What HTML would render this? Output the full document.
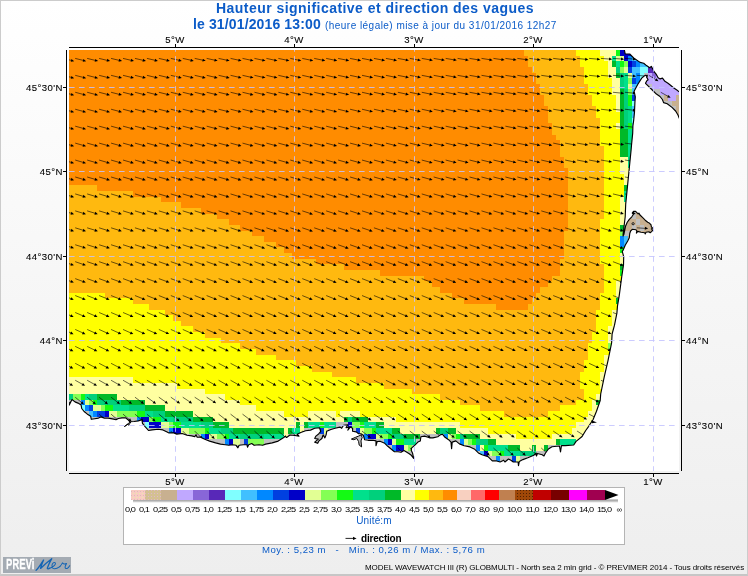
<!DOCTYPE html>
<html><head><meta charset="utf-8"><title>Hauteur significative et direction des vagues</title>
<style>
html,body{margin:0;padding:0}
body{width:748px;height:576px;position:relative;overflow:hidden;font-family:"Liberation Sans",sans-serif;background:linear-gradient(#ffffff,#eeeeee);}
#bd{position:absolute;left:0;top:0;width:746px;height:573px;border:1px solid #cccccc;border-bottom:2px solid #c6c6c6;}
.t,.lb,.lg,.tx{will-change:transform}
.t{position:absolute;white-space:nowrap;color:#0c5cc8;}
.lb{position:absolute;white-space:nowrap;font-size:9.6px;line-height:13px;color:#000;letter-spacing:0.45px;margin-top:0.15px;-webkit-text-stroke:0.1px #000}
.lg{position:absolute;top:505px;width:30px;text-align:center;font-size:8px;line-height:10px;color:#000;letter-spacing:-0.8px;white-space:nowrap;transform:scaleX(1.15)}
</style></head><body>
<div id="bd"></div>
<div class="t" style="left:216px;top:0px;font-size:14px;font-weight:bold;line-height:16px;letter-spacing:0.46px">Hauteur significative et direction des vagues</div>
<div class="t" style="left:192.7px;top:16px;font-size:14px;font-weight:bold;line-height:16px;letter-spacing:0.13px">le 31/01/2016 13:00</div>
<div class="t" style="left:325px;top:19px;font-size:10px;line-height:13px;letter-spacing:0.46px">(heure légale) mise à jour du 31/01/2016 12h27</div>
<svg width="748" height="576" viewBox="0 0 748 576" style="position:absolute;left:0;top:0">
<defs><clipPath id="pc"><rect x="69" y="50" width="610" height="421"/></clipPath></defs>
<rect x="69" y="50" width="610" height="421" fill="#fff"/>
<g clip-path="url(#pc)">
<g shape-rendering="crispEdges">
<rect x="69" y="50" width="610" height="421" fill="#ffffa0"/>
<path d="M69 50H600V56H69ZM69 56H604V61H69ZM69 61H608V67H69ZM69 67H608V73H69ZM69 73H608V78H69ZM69 78H612V84H69ZM69 84H612V89H69ZM69 89H612V95H69ZM69 95H616V101H69ZM69 101H616V106H69ZM69 106H616V112H69ZM69 112H620V118H69ZM69 118H620V123H69ZM69 123H616V129H69ZM69 129H620V135H69ZM69 135H620V140H69ZM69 140H620V146H69ZM69 146H620V152H69ZM69 152H620V157H69ZM69 157H620V163H69ZM69 163H620V168H69ZM69 168H620V174H69ZM69 174H624V180H69ZM69 180H624V185H69ZM69 185H624V191H69ZM69 191H624V197H69ZM69 197H620V202H69ZM69 202H620V208H69ZM69 208H620V214H69ZM69 214H620V219H69ZM69 219H620V225H69ZM69 225H620V231H69ZM69 231H620V236H69ZM69 236H620V242H69ZM69 242H620V247H69ZM69 247H620V253H69ZM69 253H620V259H69ZM69 259H620V264H69ZM69 264H620V270H69ZM69 270H620V276H69ZM69 276H624V281H69ZM69 281H616V287H69ZM69 287H616V293H69ZM69 293H616V298H69ZM69 298H616V304H69ZM69 304H620V310H69ZM69 310H612V315H69ZM69 315H612V321H69ZM69 321H612V326H69ZM69 326H608V332H69ZM69 332H608V338H69ZM69 338H608V343H69ZM69 343H608V349H69ZM69 349H612V355H69ZM69 355H604V360H69ZM69 360H604V366H69ZM69 366H604V372H69ZM69 372H600V377H69ZM133 377H600V383H133ZM177 383H600V389H177ZM205 389H604V394H205ZM225 394H596V400H225ZM240 400H592V405H240ZM256 405H592V411H256ZM284 411H308V417H284ZM336 411H340V417H336ZM360 411H588V417H360ZM396 417H584V422H396ZM460 422H576V428H460ZM488 428H572V434H488ZM516 434H552V439H516Z" fill="#ffff00"/>
<path d="M69 50H576V56H69ZM69 56H580V61H69ZM69 61H580V67H69ZM69 67H584V73H69ZM69 73H584V78H69ZM69 78H584V84H69ZM69 84H588V89H69ZM69 89H588V95H69ZM69 95H592V101H69ZM69 101H592V106H69ZM69 106H596V112H69ZM69 112H596V118H69ZM69 118H600V123H69ZM69 123H600V129H69ZM69 129H600V135H69ZM69 135H600V140H69ZM69 140H600V146H69ZM69 146H604V152H69ZM69 152H604V157H69ZM69 157H604V163H69ZM69 163H604V168H69ZM69 168H604V174H69ZM69 174H604V180H69ZM69 180H604V185H69ZM69 185H604V191H69ZM69 191H604V197H69ZM69 197H604V202H69ZM69 202H604V208H69ZM69 208H604V214H69ZM69 214H604V219H69ZM69 219H600V225H69ZM69 225H600V231H69ZM69 231H600V236H69ZM69 236H600V242H69ZM69 242H600V247H69ZM69 247H600V253H69ZM69 253H600V259H69ZM69 259H600V264H69ZM69 264H604V270H69ZM69 270H604V276H69ZM69 276H604V281H69ZM69 281H604V287H69ZM69 287H604V293H69ZM105 293H600V298H105ZM133 298H600V304H133ZM149 304H600V310H149ZM165 310H596V315H165ZM173 315H596V321H173ZM181 321H596V326H181ZM193 326H596V332H193ZM205 332H592V338H205ZM221 338H592V343H221ZM240 343H588V349H240ZM256 349H588V355H256ZM276 355H588V360H276ZM296 360H584V366H296ZM312 366H584V372H312ZM332 372H580V377H332ZM356 377H580V383H356ZM384 383H580V389H384ZM412 389H584V394H412ZM440 394H584V400H440ZM460 400H576V405H460ZM480 405H560V411H480ZM504 411H548V417H504Z" fill="#ffb90f"/>
<path d="M69 50H524V56H69ZM69 56H528V61H69ZM69 61H528V67H69ZM69 67H532V73H69ZM69 73H536V78H69ZM69 78H536V84H69ZM69 84H540V89H69ZM69 89H540V95H69ZM69 95H544V101H69ZM69 101H544V106H69ZM69 106H548V112H69ZM69 112H548V118H69ZM69 118H548V123H69ZM69 123H552V129H69ZM69 129H552V135H69ZM69 135H556V140H69ZM69 140H560V146H69ZM69 146H560V152H69ZM69 152H560V157H69ZM69 157H564V163H69ZM69 163H564V168H69ZM69 168H568V174H69ZM69 174H568V180H69ZM69 180H568V185H69ZM97 185H568V191H97ZM133 191H568V197H133ZM161 197H568V202H161ZM181 202H568V208H181ZM201 208H568V214H201ZM217 214H568V219H217ZM229 219H568V225H229ZM240 225H568V231H240ZM252 231H564V236H252ZM264 236H564V242H264ZM276 242H564V247H276ZM284 247H564V253H284ZM292 253H564V259H292ZM316 259H560V264H316ZM344 264H560V270H344ZM380 270H560V276H380ZM424 276H552V281H424ZM432 281H548V287H432ZM440 287H540V293H440ZM452 293H536V298H452ZM464 298H532V304H464ZM496 304H528V310H496Z" fill="#ff8c00"/>
<path d="M616 50H620V56H616ZM620 61H624V67H620ZM628 95H632V101H628ZM628 101H632V106H628ZM628 123H632V129H628ZM620 247H628V253H620ZM620 270H628V276H620ZM81 394H85V400H81ZM93 400H97V405H93ZM105 405H113V411H105ZM137 411H145V417H137ZM153 417H161V422H153ZM173 422H181V428H173ZM320 422H324V428H320ZM360 422H364V428H360ZM205 428H209V434H205ZM372 428H376V434H372ZM225 434H229V439H225ZM388 434H392V439H388ZM456 434H460V439H456ZM396 439H404V445H396ZM472 439H476V445H472ZM484 445H488V451H484ZM500 451H504V456H500Z" fill="#14fa14"/>
<path d="M620 50H632V56H620ZM624 56H628V61H624ZM628 61H632V67H628ZM105 411H109V417H105ZM141 417H149V422H141ZM149 422H161V428H149ZM348 422H352V428H348ZM173 428H181V434H173ZM205 434H209V439H205ZM368 434H376V439H368ZM229 439H233V445H229ZM388 439H392V445H388ZM396 445H404V451H396ZM484 451H488V456H484Z" fill="#0000c8"/>
<path d="M612 56H616V61H612ZM616 61H620V67H616ZM624 73H628V78H624ZM624 78H628V84H624ZM624 84H628V89H624ZM628 106H632V112H628ZM628 112H632V118H628ZM628 118H632V123H628ZM628 129H636V135H628ZM628 135H636V140H628ZM628 140H636V146H628ZM628 146H636V152H628ZM628 152H636V157H628ZM628 157H632V163H628ZM628 163H632V168H628ZM624 191H632V197H624ZM624 197H632V202H624ZM85 394H89V400H85ZM113 405H129V411H113ZM145 411H153V417H145ZM161 417H173V422H161ZM181 422H201V428H181ZM308 422H320V428H308ZM324 422H336V428H324ZM364 422H376V428H364ZM209 428H221V434H209ZM292 428H300V434H292ZM376 428H392V434H376ZM229 434H240V439H229ZM264 434H284V439H264ZM404 439H416V445H404ZM560 439H576V445H560ZM488 445H508V451H488ZM504 451H520V456H504Z" fill="#00e08c"/>
<path d="M616 56H624V61H616ZM624 67H628V73H624ZM628 73H632V78H628ZM628 84H632V89H628ZM85 400H89V405H85ZM93 405H101V411H93ZM109 411H117V417H109ZM161 422H169V428H161ZM181 428H189V434H181ZM324 428H328V434H324ZM360 428H364V434H360ZM209 434H217V439H209ZM376 434H380V439H376ZM448 434H452V439H448ZM233 439H240V445H233ZM392 439H396V445H392ZM464 439H468V445H464ZM404 445H408V451H404ZM488 451H492V456H488ZM516 456H520V462H516Z" fill="#e2ff94"/>
<path d="M628 56H632V61H628ZM636 61H640V67H636ZM636 73H640V78H636ZM636 78H640V84H636ZM620 236H624V242H620ZM620 242H624V247H620ZM81 400H85V405H81ZM85 405H89V411H85ZM93 411H97V417H93ZM137 417H141V422H137ZM169 428H173V434H169ZM201 434H205V439H201ZM364 434H368V439H364ZM444 434H448V439H444ZM225 439H229V445H225ZM384 439H388V445H384ZM460 439H464V445H460ZM392 445H396V451H392ZM476 445H480V451H476ZM496 456H500V462H496Z" fill="#0088ff"/>
<path d="M632 56H640V61H632ZM640 61H648V67H640ZM632 67H640V73H632ZM632 73H636V78H632ZM632 84H640V89H632ZM632 89H640V95H632ZM632 106H640V112H632ZM632 112H640V118H632ZM632 123H640V129H632ZM624 236H632V242H624ZM624 242H632V247H624ZM89 411H93V417H89ZM480 451H484V456H480Z" fill="#40c0ff"/>
<path d="M612 61H616V67H612ZM616 73H620V78H616ZM620 89H624V95H620ZM620 95H624V101H620ZM620 101H624V106H620ZM620 106H624V112H620ZM620 112H624V118H620ZM620 118H624V123H620ZM620 123H624V129H620ZM620 129H628V135H620ZM620 135H628V140H620ZM620 140H628V146H620ZM620 146H628V152H620ZM620 152H628V157H620ZM624 185H632V191H624ZM620 225H628V231H620ZM620 264H628V270H620ZM616 298H624V304H616ZM596 400H604V405H596ZM97 394H117V400H97ZM121 400H145V405H121ZM145 405H165V411H145ZM165 411H193V417H165ZM193 417H213V422H193ZM344 417H348V422H344ZM352 417H368V422H352ZM213 422H229V428H213ZM296 422H300V428H296ZM304 422H308V428H304ZM376 422H384V428H376ZM233 428H284V434H233ZM288 428H292V434H288ZM392 428H400V434H392ZM436 428H440V434H436ZM448 428H456V434H448ZM404 434H420V439H404ZM464 434H480V439H464ZM488 439H496V445H488ZM556 439H560V445H556ZM508 445H520V451H508ZM532 445H536V451H532ZM544 445H548V451H544Z" fill="#00b928"/>
<path d="M624 61H628V67H624ZM620 67H624V73H620ZM628 78H632V84H628ZM628 89H632V95H628ZM620 231H628V236H620ZM608 343H616V349H608ZM73 394H81V400H73ZM89 400H93V405H89ZM101 405H105V411H101ZM117 411H137V417H117ZM149 417H153V422H149ZM169 422H173V428H169ZM352 422H360V428H352ZM189 428H205V434H189ZM364 428H372V434H364ZM217 434H225V439H217ZM380 434H388V439H380ZM452 434H456V439H452ZM248 439H264V445H248ZM468 439H472V445H468ZM408 445H412V451H408ZM492 451H500V456H492Z" fill="#84ff54"/>
<path d="M632 61H636V67H632ZM628 67H632V73H628ZM632 78H636V84H632ZM632 95H640V101H632ZM89 405H93V411H89ZM97 411H105V417H97ZM320 428H324V434H320ZM356 428H360V434H356ZM244 439H248V445H244ZM512 456H516V462H512Z" fill="#0040e0"/>
<path d="M616 67H620V73H616ZM620 73H624V78H620ZM620 78H624V84H620ZM620 84H624V89H620ZM624 89H628V95H624ZM624 95H628V101H624ZM624 101H628V106H624ZM624 106H628V112H624ZM624 112H628V118H624ZM624 118H628V123H624ZM624 123H628V129H624ZM69 394H73V400H69ZM89 394H97V400H89ZM97 400H121V405H97ZM129 405H145V411H129ZM153 411H165V417H153ZM173 417H193V422H173ZM348 417H352V422H348ZM201 422H213V428H201ZM221 428H233V434H221ZM440 428H448V434H440ZM240 434H264V439H240ZM392 434H400V439H392ZM400 434H404V439H400ZM460 434H464V439H460ZM476 439H488V445H476ZM520 451H536V456H520Z" fill="#00d07c"/>
<path d="M640 67H648V73H640ZM640 73H644V78H640ZM640 78H644V84H640ZM632 101H640V106H632ZM632 118H640V123H632ZM81 405H85V411H81ZM145 422H149V428H145Z" fill="#80ffff"/>
<path d="M648 67H656V73H648Z" fill="#5828b8"/>
<path d="M644 73H648V78H644ZM640 84H652V89H640ZM640 89H660V95H640ZM640 95H664V101H640ZM640 101H672V106H640ZM640 106H676V112H640ZM640 112H676V118H640ZM336 422H344V428H336ZM240 439H244V445H240Z" fill="#c0c0c0"/>
<path d="M648 73H652V78H648ZM656 73H664V78H656ZM644 78H668V84H644ZM652 84H676V89H652ZM660 89H679V95H660ZM668 95H676V101H668Z" fill="#c0a8ff"/>
<path d="M652 73H656V78H652Z" fill="#8866d8"/>
<path d="M664 95H668V101H664ZM676 95H679V101H676ZM672 101H679V106H672ZM676 106H679V112H676ZM676 112H679V118H676Z" fill="#c8b090"/>
<path d="M480 445H484V451H480ZM520 445H532V451H520ZM536 445H544V451H536Z" fill="#ffffa0"/>
<path d="M69 400H73V471H69ZM73 400H77V471H73ZM77 400H81V471H77ZM81 411H85V471H81ZM85 411H89V471H85ZM89 417H93V471H89ZM93 417H97V471H93ZM97 417H101V471H97ZM101 417H105V471H101ZM105 417H109V471H105ZM109 417H113V471H109ZM113 417H117V471H113ZM117 417H121V471H117ZM121 417H125V471H121ZM125 417H129V471H125ZM129 417H133V471H129ZM133 417H137V471H133ZM137 422H141V471H137ZM141 422H145V471H141ZM145 428H149V471H145ZM149 428H153V471H149ZM153 428H157V471H153ZM157 428H161V471H157ZM161 428H165V471H161ZM165 428H169V471H165ZM169 434H173V471H169ZM173 434H177V471H173ZM177 434H181V471H177ZM181 434H185V471H181ZM185 434H189V471H185ZM189 434H193V471H189ZM193 434H197V471H193ZM197 434H201V471H197ZM201 439H205V471H201ZM205 439H209V471H205ZM209 439H213V471H209ZM344 422H348V471H344ZM348 428H352V471H348ZM352 428H356V471H352ZM356 434H360V471H356ZM360 434H364V471H360ZM364 439H368V471H364ZM213 439H217V471H213ZM217 439H221V471H217ZM221 439H225V471H221ZM225 445H229V471H225ZM296 434H300V471H296ZM304 428H308V471H304ZM308 428H312V471H308ZM312 428H316V471H312ZM316 428H320V471H316ZM320 434H324V471H320ZM324 434H328V471H324ZM328 428H332V471H328ZM332 428H336V471H332ZM368 439H372V471H368ZM372 439H376V471H372ZM376 439H380V471H376ZM380 439H384V471H380ZM229 445H233V471H229ZM233 445H237V471H233ZM237 445H240V471H237ZM240 439H244V471H240ZM244 445H248V471H244ZM248 445H252V471H248ZM252 445H256V471H252ZM256 445H260V471H256ZM260 445H264V471H260ZM264 439H268V471H264ZM268 439H272V471H268ZM272 439H276V471H272ZM276 439H280V471H276ZM280 439H284V471H280ZM288 434H292V471H288ZM292 434H296V471H292ZM384 445H388V471H384ZM388 445H392V471H388ZM392 451H396V471H392ZM396 451H400V471H396ZM436 434H440V471H436ZM440 434H444V471H440ZM444 439H448V471H444ZM448 439H452V471H448ZM452 439H456V471H452ZM400 451H404V471H400ZM404 451H408V471H404ZM408 451H412V471H408ZM412 445H416V471H412ZM416 439H420V471H416ZM456 439H460V471H456ZM460 445H464V471H460ZM464 445H468V471H464ZM468 445H472V471H468ZM472 445H476V471H472ZM476 451H480V471H476ZM480 456H484V471H480ZM484 456H488V471H484ZM488 456H492V471H488ZM492 456H496V471H492ZM556 445H560V471H556ZM560 445H564V471H560ZM564 445H568V471H564ZM568 445H572V471H568ZM572 445H576V471H572ZM496 462H500V471H496ZM500 456H504V471H500ZM504 456H508V471H504ZM508 456H512V471H508ZM512 462H516V471H512ZM516 462H520V471H516ZM520 456H524V471H520ZM524 456H528V471H524ZM528 456H532V471H528ZM532 456H536V471H532ZM536 451H540V471H536ZM540 451H544V471H540ZM544 451H548V471H544ZM420 434H424V471H420ZM424 434H428V471H424ZM428 434H432V471H428ZM432 434H436V471H432ZM336 422H340V471H336ZM340 422H344V471H340ZM548 445H552V471H548ZM552 445H556V471H552Z" fill="#c0c0c0"/>
</g>
<clipPath id="ac"><polygon points="623.9,234.3 624.75,230.2 625.6,226 627.25,222.25 629.3,219.3 631.8,216.8 633.5,214.3 632.25,213.1 633.5,211.4 635.6,211.4 638.1,213.9 638.9,213.1 639.75,214.75 642.7,217.7 645.2,220.2 647.7,222.25 649.3,223.1 651,224.75 651.4,226.8 652.7,228.1 651.4,228.9 652.7,230.2 651.8,231.4 650.2,232.7 648.9,231.8 646,232.25 645.2,233.9 644.75,232.7 641,232.25 637.7,231.4 636.4,233.1 636.8,231 636,229.75 632.25,229.3 630.6,231 629.75,233.5 629.3,237.7 627.7,241 628,236 624,236"/></clipPath><polygon points="623.9,234.3 624.75,230.2 625.6,226 627.25,222.25 629.3,219.3 631.8,216.8 633.5,214.3 632.25,213.1 633.5,211.4 635.6,211.4 638.1,213.9 638.9,213.1 639.75,214.75 642.7,217.7 645.2,220.2 647.7,222.25 649.3,223.1 651,224.75 651.4,226.8 652.7,228.1 651.4,228.9 652.7,230.2 651.8,231.4 650.2,232.7 648.9,231.8 646,232.25 645.2,233.9 644.75,232.7 641,232.25 637.7,231.4 636.4,233.1 636.8,231 636,229.75 632.25,229.3 630.6,231 629.75,233.5 629.3,237.7 627.7,241 628,236 624,236" fill="#c8b090"/><path d="M632 208h4v11h-4zM636 219h4v6h-4zM632 225h4v6h-4zM640 225h4v6h-4zM624 231h6v5h-6z" fill="#c0c0c0" shape-rendering="crispEdges" clip-path="url(#ac)"/><circle cx="633.1" cy="223.75" r="1.1" fill="#d8d0c0" stroke="#000" stroke-width="0.9"/>
<path d="M63.25 58.4L71.59 60.48M63.25 75.34L71.58 77.48M63.25 92.28L71.56 94.48M63.25 109.22L71.55 111.48M63.25 126.16L71.53 128.48M63.25 143.1L71.51 145.48M63.25 160.04L71.5 162.48M63.25 176.98L71.49 179.45M63.25 193.92L71.48 196.42M63.25 210.86L71.47 213.39M63.25 227.8L71.46 230.36M63.25 244.74L71.45 247.33M63.25 261.68L71.39 264.46M63.25 278.62L71.32 281.6M63.25 295.56L71.24 298.74M63.25 312.5L71.16 315.88M63.25 329.44L71.07 333.01M63.25 346.38L70.98 350.16M63.25 363.32L70.88 367.3M63.25 380.26L70.76 384.45M63.25 397.2L69.84 402.73M75.2 58.4L83.54 60.48M75.2 75.34L83.53 77.48M75.2 92.28L83.51 94.48M75.2 109.22L83.5 111.48M75.2 126.16L83.48 128.48M75.2 143.1L83.46 145.48M75.2 160.04L83.45 162.48M75.2 176.98L83.44 179.45M75.2 193.92L83.43 196.42M75.2 210.86L83.42 213.39M75.2 227.8L83.41 230.36M75.2 244.74L83.4 247.33M75.2 261.68L83.34 264.46M75.2 278.62L83.27 281.6M75.2 295.56L83.19 298.74M75.2 312.5L83.11 315.88M75.2 329.44L83.02 333.01M75.2 346.38L82.93 350.16M75.2 363.32L82.83 367.3M75.2 380.26L82.71 384.45M75.2 397.2L81.79 402.73M87.15 58.4L95.5 60.46M87.15 75.34L95.48 77.46M87.15 92.28L95.47 94.47M87.15 109.22L95.45 111.47M87.15 126.16L95.43 128.47M87.15 143.1L95.42 145.47M87.15 160.04L95.4 162.48M87.15 176.98L95.39 179.45M87.15 193.92L95.38 196.42M87.15 210.86L95.37 213.39M87.15 227.8L95.36 230.37M87.15 244.74L95.35 247.34M87.15 261.68L95.28 264.47M87.15 278.62L95.21 281.61M87.15 295.56L95.14 298.74M87.15 312.5L95.06 315.88M87.15 329.44L94.98 333.01M87.15 346.38L94.88 350.15M87.15 363.32L94.77 367.3M87.15 380.26L94.65 384.46M87.15 397.2L93.8 402.65M99.1 58.4L107.45 60.44M99.1 75.34L107.44 77.44M99.1 92.28L107.42 94.45M99.1 109.22L107.4 111.45M99.1 126.16L107.39 128.46M99.1 143.1L107.37 145.46M99.1 160.04L107.35 162.47M99.1 176.98L107.34 179.45M99.1 193.92L107.33 196.42M99.1 210.86L107.32 213.4M99.1 227.8L107.3 230.38M99.1 244.74L107.29 247.35M99.1 261.68L107.23 264.48M99.1 278.62L107.16 281.62M99.1 295.56L107.09 298.74M99.1 312.5L107.01 315.87M99.1 329.44L106.93 333M99.1 346.38L106.83 350.15M99.1 363.32L106.72 367.31M99.1 380.26L106.6 384.47M99.1 397.2L105.82 402.57M99.1 414.14L105.55 419.83M111.05 58.4L119.41 60.42M111.05 75.34L119.39 77.42M111.05 92.28L119.38 94.43M111.05 109.22L119.36 111.44M111.05 126.16L119.34 128.45M111.05 143.1L119.32 145.45M111.05 160.04L119.3 162.46M111.05 176.98L119.29 179.44M111.05 193.92L119.28 196.42M111.05 210.86L119.26 213.41M111.05 227.8L119.25 230.39M111.05 244.74L119.24 247.37M111.05 261.68L119.18 264.49M111.05 278.62L119.11 281.62M111.05 295.56L119.04 298.75M111.05 312.5L118.96 315.87M111.05 329.44L118.88 332.99M111.05 346.38L118.78 350.15M111.05 363.32L118.67 367.31M111.05 380.26L118.54 384.49M111.05 397.2L117.83 402.49M111.05 414.14L117.53 419.8M123 58.4L131.37 60.39M123 75.34L131.35 77.4M123 92.28L131.33 94.42M123 109.22L131.31 111.42M123 126.16L131.29 128.43M123 143.1L131.27 145.44M123 160.04L131.25 162.45M123 176.98L131.24 179.44M123 193.92L131.23 196.43M123 210.86L131.21 213.41M123 227.8L131.2 230.4M123 244.74L131.18 247.38M123 261.68L131.12 264.5M123 278.62L131.06 281.63M123 295.56L130.99 298.75M123 312.5L130.91 315.86M123 329.44L130.84 332.98M123 346.38L130.73 350.15M123 363.32L130.61 367.32M123 380.26L130.48 384.5M123 397.2L129.85 402.4M123 414.14L129.51 419.76M134.95 58.4L143.32 60.37M134.95 75.34L143.3 77.39M134.95 92.28L143.29 94.4M134.95 109.22L143.27 111.41M134.95 126.16L143.25 128.42M134.95 143.1L143.23 145.43M134.95 160.04L143.21 162.45M134.95 176.98L143.19 179.44M134.95 193.92L143.18 196.43M134.95 210.86L143.16 213.42M134.95 227.8L143.15 230.41M134.95 244.74L143.13 247.4M134.95 261.68L143.07 264.51M134.95 278.62L143.01 281.63M134.95 295.56L142.94 298.75M134.95 312.5L142.87 315.86M134.95 329.44L142.79 332.97M134.95 346.38L142.68 350.15M134.95 363.32L142.56 367.33M134.95 380.26L142.43 384.51M134.95 397.2L141.86 402.32M134.95 414.14L141.48 419.73M146.9 58.4L155.28 60.35M146.9 75.34L155.26 77.37M146.9 92.28L155.24 94.38M146.9 109.22L155.22 111.4M146.9 126.16L155.2 128.41M146.9 143.1L155.18 145.43M146.9 160.04L155.16 162.44M146.9 176.98L155.14 179.43M146.9 193.92L155.13 196.43M146.9 210.86L155.11 213.42M146.9 227.8L155.09 230.42M146.9 244.74L155.07 247.41M146.9 261.68L155.02 264.52M146.9 278.62L154.95 281.64M146.9 295.56L154.89 298.75M146.9 312.5L154.82 315.86M146.9 329.44L154.74 332.97M146.9 346.38L154.63 350.15M146.9 363.32L154.51 367.33M146.9 380.26L154.37 384.52M146.9 397.2L153.87 402.24M146.9 414.14L153.46 419.7M158.85 58.4L167.23 60.33M158.85 75.34L167.21 77.35M158.85 92.28L167.19 94.36M158.85 109.22L167.17 111.38M158.85 126.16L167.15 128.4M158.85 143.1L167.13 145.42M158.85 160.04L167.11 162.43M158.85 176.98L167.09 179.43M158.85 193.92L167.08 196.43M158.85 210.86L167.06 213.43M158.85 227.8L167.04 230.43M158.85 244.74L167.02 247.43M158.85 261.68L166.96 264.53M158.85 278.62L166.9 281.64M158.85 295.56L166.84 298.75M158.85 312.5L166.77 315.85M158.85 329.44L166.7 332.96M158.85 346.38L166.58 350.15M158.85 363.32L166.45 367.34M158.85 380.26L166.31 384.53M158.85 397.2L165.88 402.15M158.85 414.14L165.44 419.66M170.8 58.4L179.19 60.31M170.8 75.34L179.17 77.33M170.8 92.28L179.15 94.35M170.8 109.22L179.13 111.37M170.8 126.16L179.11 128.39M170.8 143.1L179.09 145.41M170.8 160.04L179.06 162.43M170.8 176.98L179.04 179.43M170.8 193.92L179.03 196.43M170.8 210.86L179.01 213.43M170.8 227.8L178.99 230.44M170.8 244.74L178.97 247.44M170.8 261.68L178.91 264.54M170.8 278.62L178.85 281.65M170.8 295.56L178.79 298.75M170.8 312.5L178.72 315.85M170.8 329.44L178.65 332.95M170.8 346.38L178.53 350.15M170.8 363.32L178.4 367.34M170.8 380.26L178.26 384.54M170.8 397.2L177.89 402.07M170.8 414.14L177.42 419.63M170.8 431.08L176.84 437.21M182.75 58.4L191.14 60.29M182.75 75.34L191.12 77.31M182.75 92.28L191.1 94.33M182.75 109.22L191.08 111.35M182.75 126.16L191.06 128.37M182.75 143.1L191.04 145.4M182.75 160.04L191.01 162.42M182.75 176.98L191 179.43M182.75 193.92L190.97 196.43M182.75 210.86L190.95 213.44M182.75 227.8L190.93 230.45M182.75 244.74L190.91 247.45M182.75 261.68L190.86 264.55M182.75 278.62L190.8 281.65M182.75 295.56L190.74 298.75M182.75 312.5L190.67 315.85M182.75 329.44L190.61 332.94M182.75 346.38L190.48 350.15M182.75 363.32L190.35 367.35M182.75 380.26L190.2 384.55M182.75 397.2L189.9 401.98M182.75 414.14L189.4 419.59M182.75 431.08L188.81 437.18M194.7 58.4L203.1 60.26M194.7 75.34L203.08 77.29M194.7 92.28L203.06 94.31M194.7 109.22L203.04 111.34M194.7 126.16L203.01 128.36M194.7 143.1L202.99 145.39M194.7 160.04L202.97 162.41M194.7 176.98L202.95 179.42M194.7 193.92L202.92 196.43M194.7 210.86L202.9 213.45M194.7 227.8L202.88 230.46M194.7 244.74L202.86 247.47M194.7 261.68L202.8 264.56M194.7 278.62L202.75 281.66M194.7 295.56L202.69 298.75M194.7 312.5L202.62 315.84M194.7 329.44L202.56 332.93M194.7 346.38L202.43 350.15M194.7 363.32L202.29 367.36M194.7 380.26L202.14 384.57M194.7 397.2L201.91 401.89M194.7 414.14L201.38 419.56M194.7 431.08L200.78 437.16M206.65 58.4L215.05 60.26M206.65 75.34L215.03 77.28M206.65 92.28L215.01 94.31M206.65 109.22L214.99 111.33M206.65 126.16L214.96 128.36M206.65 143.1L214.94 145.39M206.65 160.04L214.92 162.41M206.65 176.98L214.89 179.43M206.65 193.92L214.87 196.44M206.65 210.86L214.85 213.46M206.65 227.8L214.82 230.47M206.65 244.74L214.8 247.49M206.65 261.68L214.75 264.58M206.65 278.62L214.69 281.67M206.65 295.56L214.63 298.75M206.65 312.5L214.57 315.84M206.65 329.44L214.51 332.93M206.65 346.38L214.39 350.13M206.65 363.32L214.25 367.34M206.65 380.26L214.11 384.54M206.65 397.2L213.87 401.87M206.65 414.14L213.37 419.5M206.65 431.08L212.79 437.1M218.6 58.4L227 60.25M218.6 75.34L226.98 77.28M218.6 92.28L226.96 94.3M218.6 109.22L226.94 111.33M218.6 126.16L226.91 128.36M218.6 143.1L226.89 145.38M218.6 160.04L226.87 162.41M218.6 176.98L226.84 179.43M218.6 193.92L226.82 196.45M218.6 210.86L226.8 213.47M218.6 227.8L226.77 230.49M218.6 244.74L226.74 247.5M218.6 261.68L226.69 264.59M218.6 278.62L226.64 281.67M218.6 295.56L226.58 298.76M218.6 312.5L226.52 315.84M218.6 329.44L226.46 332.93M218.6 346.38L226.34 350.12M218.6 363.32L226.21 367.32M218.6 380.26L226.07 384.51M218.6 397.2L225.83 401.85M218.6 414.14L225.37 419.44M218.6 431.08L224.8 437.04M230.55 58.4L238.95 60.24M230.55 75.34L238.93 77.27M230.55 92.28L238.91 94.3M230.55 109.22L238.89 111.33M230.55 126.16L238.87 128.36M230.55 143.1L238.84 145.38M230.55 160.04L238.82 162.41M230.55 176.98L238.79 179.43M230.55 193.92L238.77 196.46M230.55 210.86L238.74 213.48M230.55 227.8L238.71 230.5M230.55 244.74L238.69 247.52M230.55 261.68L238.64 264.6M230.55 278.62L238.59 281.68M230.55 295.56L238.53 298.76M230.55 312.5L238.47 315.84M230.55 329.44L238.41 332.92M230.55 346.38L238.3 350.11M230.55 363.32L238.17 367.3M230.55 380.26L238.04 384.49M230.55 397.2L237.79 401.84M230.55 414.14L237.37 419.38M230.55 431.08L236.82 436.97M242.5 58.4L250.9 60.23M242.5 75.34L250.88 77.26M242.5 92.28L250.86 94.29M242.5 109.22L250.84 111.32M242.5 126.16L250.82 128.35M242.5 143.1L250.79 145.38M242.5 160.04L250.77 162.41M242.5 176.98L250.74 179.44M242.5 193.92L250.72 196.46M242.5 210.86L250.69 213.49M242.5 227.8L250.66 230.52M242.5 244.74L250.63 247.54M242.5 261.68L250.58 264.62M242.5 278.62L250.53 281.69M242.5 295.56L250.48 298.77M242.5 312.5L250.42 315.84M242.5 329.44L250.37 332.92M242.5 346.38L250.25 350.1M242.5 363.32L250.13 367.28M242.5 380.26L250 384.46M242.5 397.2L249.76 401.82M242.5 414.14L249.36 419.32M242.5 431.08L248.83 436.91M254.45 58.4L262.85 60.23M254.45 75.34L262.83 77.26M254.45 92.28L262.81 94.29M254.45 109.22L262.79 111.32M254.45 126.16L262.77 128.35M254.45 143.1L262.74 145.38M254.45 160.04L262.72 162.41M254.45 176.98L262.69 179.44M254.45 193.92L262.66 196.47M254.45 210.86L262.63 213.5M254.45 227.8L262.61 230.53M254.45 244.74L262.57 247.56M254.45 261.68L262.53 264.63M254.45 278.62L262.48 281.7M254.45 295.56L262.43 298.77M254.45 312.5L262.37 315.84M254.45 329.44L262.32 332.91M254.45 346.38L262.21 350.09M254.45 363.32L262.09 367.26M254.45 380.26L261.97 384.44M254.45 397.2L261.72 401.8M254.45 414.14L261.36 419.26M254.45 431.08L260.84 436.84M266.4 58.4L274.81 60.22M266.4 75.34L274.78 77.25M266.4 92.28L274.76 94.28M266.4 109.22L274.74 111.32M266.4 126.16L274.72 128.35M266.4 143.1L274.69 145.38M266.4 160.04L274.67 162.41M266.4 176.98L274.64 179.44M266.4 193.92L274.61 196.48M266.4 210.86L274.58 213.51M266.4 227.8L274.55 230.54M266.4 244.74L274.52 247.58M266.4 261.68L274.47 264.64M266.4 278.62L274.42 281.71M266.4 295.56L274.37 298.78M266.4 312.5L274.32 315.84M266.4 329.44L274.27 332.91M266.4 346.38L274.17 350.08M266.4 363.32L274.05 367.24M266.4 380.26L273.93 384.41M266.4 397.2L273.68 401.78M266.4 414.14L273.35 419.2M266.4 431.08L272.85 436.77M278.35 58.4L286.76 60.21M278.35 75.34L286.74 77.25M278.35 92.28L286.71 94.28M278.35 109.22L286.69 111.31M278.35 126.16L286.67 128.35M278.35 143.1L286.64 145.38M278.35 160.04L286.62 162.41M278.35 176.98L286.59 179.45M278.35 193.92L286.56 196.49M278.35 210.86L286.53 213.52M278.35 227.8L286.5 230.56M278.35 244.74L286.46 247.6M278.35 261.68L286.42 264.66M278.35 278.62L286.37 281.72M278.35 295.56L286.32 298.78M278.35 312.5L286.27 315.84M278.35 329.44L286.22 332.91M278.35 346.38L286.12 350.06M278.35 363.32L286.01 367.22M278.35 380.26L285.9 384.38M278.35 397.2L285.64 401.76M278.35 414.14L285.35 419.14M278.35 431.08L284.85 436.71M290.3 58.4L298.71 60.21M290.3 75.34L298.69 77.24M290.3 92.28L298.67 94.27M290.3 109.22L298.64 111.31M290.3 126.16L298.62 128.34M290.3 143.1L298.59 145.38M290.3 160.04L298.57 162.41M290.3 176.98L298.54 179.45M290.3 193.92L298.51 196.49M290.3 210.86L298.47 213.53M290.3 227.8L298.44 230.57M290.3 244.74L298.41 247.61M290.3 261.68L298.36 264.67M290.3 278.62L298.32 281.73M290.3 295.56L298.27 298.79M290.3 312.5L298.22 315.85M290.3 329.44L298.17 332.9M290.3 346.38L298.08 350.05M290.3 363.32L297.97 367.21M290.3 380.26L297.86 384.36M290.3 397.2L297.61 401.74M290.3 414.14L297.34 419.08M290.3 431.08L296.86 436.64M302.25 58.4L310.66 60.2M302.25 75.34L310.64 77.23M302.25 92.28L310.62 94.27M302.25 109.22L310.59 111.31M302.25 126.16L310.57 128.34M302.25 143.1L310.54 145.38M302.25 160.04L310.52 162.41M302.25 176.98L310.49 179.46M302.25 193.92L310.45 196.5M302.25 210.86L310.42 213.54M302.25 227.8L310.39 230.59M302.25 244.74L310.35 247.63M302.25 261.68L310.31 264.69M302.25 278.62L310.26 281.74M302.25 295.56L310.22 298.79M302.25 312.5L310.17 315.85M302.25 329.44L310.12 332.9M302.25 346.38L310.03 350.04M302.25 363.32L309.93 367.19M302.25 380.26L309.82 384.33M302.25 397.2L309.57 401.72M302.25 414.14L309.33 419.02M302.25 431.08L308.87 436.57M314.2 58.4L322.61 60.19M314.2 75.34L322.59 77.23M314.2 92.28L322.57 94.27M314.2 109.22L322.54 111.3M314.2 126.16L322.52 128.34M314.2 143.1L322.49 145.37M314.2 160.04L322.47 162.41M314.2 176.98L322.43 179.46M314.2 193.92L322.4 196.51M314.2 210.86L322.37 213.56M314.2 227.8L322.33 230.6M314.2 244.74L322.29 247.65M314.2 261.68L322.25 264.7M314.2 278.62L322.21 281.75M314.2 295.56L322.17 298.8M314.2 312.5L322.12 315.85M314.2 329.44L322.08 332.89M314.2 346.38L321.99 350.03M314.2 363.32L321.89 367.17M314.2 380.26L321.79 384.31M314.2 397.2L321.53 401.7M314.2 414.14L321.32 418.96M326.15 58.4L334.57 60.16M326.15 75.34L334.55 77.2M326.15 92.28L334.52 94.24M326.15 109.22L334.5 111.28M326.15 126.16L334.48 128.32M326.15 143.1L334.45 145.35M326.15 160.04L334.42 162.39M326.15 176.98L334.39 179.44M326.15 193.92L334.36 196.49M326.15 210.86L334.32 213.55M326.15 227.8L334.28 230.6M326.15 244.74L334.24 247.65M326.15 261.68L334.2 264.7M326.15 278.62L334.16 281.75M326.15 295.56L334.12 298.79M326.15 312.5L334.07 315.84M326.15 329.44L334.03 332.89M326.15 346.38L333.94 350.02M326.15 363.32L333.85 367.15M326.15 380.26L333.75 384.28M326.15 397.2L333.49 401.68M326.15 414.14L333.28 418.94M326.15 431.08L332.85 436.47M338.1 58.4L346.52 60.13M338.1 75.34L346.5 77.17M338.1 92.28L346.48 94.21M338.1 109.22L346.46 111.25M338.1 126.16L346.43 128.29M338.1 143.1L346.41 145.33M338.1 160.04L346.38 162.37M338.1 176.98L346.35 179.42M338.1 193.92L346.31 196.48M338.1 210.86L346.27 213.54M338.1 227.8L346.24 230.59M338.1 244.74L346.2 247.64M338.1 261.68L346.16 264.69M338.1 278.62L346.11 281.74M338.1 295.56L346.07 298.79M338.1 312.5L346.03 315.84M338.1 329.44L345.98 332.88M338.1 346.38L345.9 350.01M338.1 363.32L345.81 367.13M338.1 380.26L345.72 384.25M338.1 397.2L345.45 401.66M338.1 414.14L345.24 418.93M350.05 58.4L358.48 60.1M350.05 75.34L358.46 77.15M350.05 92.28L358.44 94.19M350.05 109.22L358.41 111.23M350.05 126.16L358.39 128.27M350.05 143.1L358.36 145.31M350.05 160.04L358.33 162.35M350.05 176.98L358.3 179.41M350.05 193.92L358.26 196.47M350.05 210.86L358.23 213.52M350.05 227.8L358.19 230.58M350.05 244.74L358.15 247.64M350.05 261.68L358.11 264.69M350.05 278.62L358.07 281.74M350.05 295.56L358.02 298.78M350.05 312.5L357.98 315.83M350.05 329.44L357.93 332.88M350.05 346.38L357.85 349.99M350.05 363.32L357.77 367.11M350.05 380.26L357.68 384.23M350.05 397.2L357.41 401.64M350.05 414.14L357.2 418.92M362 58.4L370.44 60.08M362 75.34L370.41 77.12M362 92.28L370.39 94.16M362 109.22L370.37 111.2M362 126.16L370.34 128.24M362 143.1L370.32 145.28M362 160.04L370.29 162.33M362 176.98L370.26 179.39M362 193.92L370.22 196.45M362 210.86L370.18 213.51M362 227.8L370.14 230.57M362 244.74L370.1 247.63M362 261.68L370.06 264.68M362 278.62L370.02 281.73M362 295.56L369.97 298.78M362 312.5L369.93 315.83M362 329.44L369.89 332.87M362 346.38L369.81 349.98M362 363.32L369.73 367.09M362 380.26L369.64 384.2M362 397.2L369.38 401.62M362 414.14L369.16 418.9M362 431.08L368.75 436.4M373.95 58.4L382.39 60.05M373.95 75.34L382.37 77.09M373.95 92.28L382.35 94.13M373.95 109.22L382.32 111.18M373.95 126.16L382.3 128.22M373.95 143.1L382.27 145.26M373.95 160.04L382.25 162.3M373.95 176.98L382.21 179.37M373.95 193.92L382.17 196.44M373.95 210.86L382.13 213.5M373.95 227.8L382.09 230.57M373.95 244.74L382.05 247.63M373.95 261.68L382.01 264.68M373.95 278.62L381.97 281.73M373.95 295.56L381.93 298.77M373.95 312.5L381.88 315.82M373.95 329.44L381.84 332.87M373.95 346.38L381.77 349.97M373.95 363.32L381.69 367.07M373.95 380.26L381.61 384.17M373.95 397.2L381.34 401.6M373.95 414.14L381.12 418.89M373.95 431.08L380.72 436.38M385.9 58.4L394.35 60.02M385.9 75.34L394.33 77.06M385.9 92.28L394.3 94.11M385.9 109.22L394.28 111.15M385.9 126.16L394.26 128.2M385.9 143.1L394.23 145.24M385.9 160.04L394.2 162.28M385.9 176.98L394.17 179.35M385.9 193.92L394.13 196.42M385.9 210.86L394.09 213.49M385.9 227.8L394.05 230.56M385.9 244.74L394 247.63M385.9 261.68L393.96 264.67M385.9 278.62L393.92 281.72M385.9 295.56L393.88 298.77M385.9 312.5L393.84 315.82M385.9 329.44L393.79 332.86M385.9 346.38L393.72 349.95M385.9 363.32L393.65 367.05M385.9 380.26L393.57 384.15M385.9 397.2L393.3 401.58M385.9 414.14L393.08 418.88M385.9 431.08L392.69 436.36M397.85 58.4L406.3 59.99M397.85 75.34L406.28 77.03M397.85 92.28L406.26 94.08M397.85 109.22L406.24 111.13M397.85 126.16L406.21 128.17M397.85 143.1L406.19 145.22M397.85 160.04L406.16 162.26M397.85 176.98L406.12 179.33M397.85 193.92L406.08 196.41M397.85 210.86L406.04 213.48M397.85 227.8L406 230.55M397.85 244.74L405.95 247.62M397.85 261.68L405.91 264.67M397.85 278.62L405.87 281.72M397.85 295.56L405.83 298.76M397.85 312.5L405.79 315.81M397.85 329.44L405.74 332.86M397.85 346.38L405.68 349.94M397.85 363.32L405.61 367.03M397.85 380.26L405.53 384.12M397.85 397.2L405.26 401.56M397.85 414.14L405.03 418.87M397.85 431.08L404.66 436.33M397.85 448.02L404.11 453.92M409.8 58.4L418.26 59.96M409.8 75.34L418.24 77.01M409.8 92.28L418.22 94.05M409.8 109.22L418.19 111.1M409.8 126.16L418.17 128.15M409.8 143.1L418.14 145.19M409.8 160.04L418.11 162.24M409.8 176.98L418.08 179.32M409.8 193.92L418.04 196.39M409.8 210.86L417.99 213.47M409.8 227.8L417.95 230.54M409.8 244.74L417.9 247.62M409.8 261.68L417.87 264.67M409.8 278.62L417.82 281.71M409.8 295.56L417.78 298.76M409.8 312.5L417.74 315.8M409.8 329.44L417.7 332.85M409.8 346.38L417.63 349.93M409.8 363.32L417.57 367.01M409.8 380.26L417.5 384.09M409.8 397.2L417.22 401.55M409.8 414.14L416.99 418.85M409.8 431.08L416.63 436.31M409.8 448.02L416.07 453.91M421.75 58.4L430.21 59.93M421.75 75.34L430.19 76.98M421.75 92.28L430.17 94.03M421.75 109.22L430.15 111.07M421.75 126.16L430.12 128.12M421.75 143.1L430.1 145.17M421.75 160.04L430.07 162.22M421.75 176.98L430.03 179.3M421.75 193.92L429.99 196.38M421.75 210.86L429.95 213.46M421.75 227.8L429.9 230.54M421.75 244.74L429.86 247.61M421.75 261.68L429.82 264.66M421.75 278.62L429.78 281.71M421.75 295.56L429.73 298.75M421.75 312.5L429.69 315.8M421.75 329.44L429.65 332.84M421.75 346.38L429.59 349.92M421.75 363.32L429.53 366.99M421.75 380.26L429.46 384.07M421.75 397.2L429.18 401.53M421.75 414.14L428.95 418.84M421.75 431.08L428.6 436.29M433.7 58.4L442.17 59.9M433.7 75.34L442.15 76.95M433.7 92.28L442.13 94M433.7 109.22L442.1 111.05M433.7 126.16L442.08 128.1M433.7 143.1L442.05 145.15M433.7 160.04L442.03 162.2M433.7 176.98L441.99 179.28M433.7 193.92L441.95 196.36M433.7 210.86L441.9 213.45M433.7 227.8L441.86 230.53M433.7 244.74L441.81 247.61M433.7 261.68L441.77 264.66M433.7 278.62L441.73 281.7M433.7 295.56L441.69 298.75M433.7 312.5L441.64 315.79M433.7 329.44L441.6 332.84M433.7 346.38L441.54 349.9M433.7 363.32L441.49 366.97M433.7 380.26L441.42 384.04M433.7 397.2L441.14 401.51M433.7 414.14L440.91 418.83M433.7 431.08L440.56 436.26M445.65 58.4L454.13 59.86M445.65 75.34L454.11 76.91M445.65 92.28L454.08 93.96M445.65 109.22L454.06 111.01M445.65 126.16L454.04 128.07M445.65 143.1L454.01 145.12M445.65 160.04L453.98 162.17M445.65 176.98L453.94 179.26M445.65 193.92L453.9 196.34M445.65 210.86L453.86 213.43M445.65 227.8L453.81 230.52M445.65 244.74L453.76 247.6M445.65 261.68L453.72 264.65M445.65 278.62L453.68 281.7M445.65 295.56L453.64 298.74M445.65 312.5L453.6 315.79M445.65 329.44L453.55 332.83M445.65 346.38L453.5 349.9M445.65 363.32L453.44 366.96M445.65 380.26L453.38 384.02M445.65 397.2L453.11 401.48M445.65 414.14L452.89 418.78M445.65 431.08L452.54 436.23M457.6 58.4L466.08 59.81M457.6 75.34L466.06 76.87M457.6 92.28L466.04 93.92M457.6 109.22L466.02 110.98M457.6 126.16L465.99 128.03M457.6 143.1L465.97 145.09M457.6 160.04L465.94 162.14M457.6 176.98L465.9 179.23M457.6 193.92L465.86 196.32M457.6 210.86L465.81 213.42M457.6 227.8L465.76 230.51M457.6 244.74L465.71 247.6M457.6 261.68L465.67 264.64M457.6 278.62L465.63 281.69M457.6 295.56L465.59 298.74M457.6 312.5L465.55 315.78M457.6 329.44L465.5 332.83M457.6 346.38L465.45 349.89M457.6 363.32L465.4 366.94M457.6 380.26L465.34 384M457.6 397.2L465.07 401.45M457.6 414.14L464.87 418.73M457.6 431.08L464.52 436.19M469.55 58.4L478.04 59.77M469.55 75.34L478.02 76.83M469.55 92.28L478 93.88M469.55 109.22L477.98 110.94M469.55 126.16L477.95 128M469.55 143.1L477.93 145.05M469.55 160.04L477.9 162.11M469.55 176.98L477.86 179.21M469.55 193.92L477.81 196.3M469.55 210.86L477.77 213.4M469.55 227.8L477.72 230.49M469.55 244.74L477.66 247.59M469.55 261.68L477.63 264.64M469.55 278.62L477.59 281.69M469.55 295.56L477.54 298.73M469.55 312.5L477.5 315.78M469.55 329.44L477.46 332.83M469.55 346.38L477.41 349.88M469.55 363.32L477.36 366.93M469.55 380.26L477.3 383.98M469.55 397.2L477.04 401.43M469.55 414.14L476.85 418.68M469.55 431.08L476.49 436.16M481.5 58.4L490 59.72M481.5 75.34L489.98 76.78M481.5 92.28L489.96 93.84M481.5 109.22L489.93 110.9M481.5 126.16L489.91 127.96M481.5 143.1L489.88 145.02M481.5 160.04L489.85 162.08M481.5 176.98L489.81 179.18M481.5 193.92L489.77 196.28M481.5 210.86L489.72 213.38M481.5 227.8L489.67 230.48M481.5 244.74L489.62 247.58M481.5 261.68L489.58 264.63M481.5 278.62L489.54 281.68M481.5 295.56L489.5 298.73M481.5 312.5L489.45 315.78M481.5 329.44L489.41 332.82M481.5 346.38L489.36 349.87M481.5 363.32L489.31 366.91M481.5 380.26L489.26 383.96M481.5 397.2L489 401.4M481.5 414.14L488.83 418.63M481.5 431.08L488.47 436.12M481.5 448.02L487.83 453.84M493.45 58.4L501.95 59.68M493.45 75.34L501.93 76.74M493.45 92.28L501.91 93.81M493.45 109.22L501.89 110.87M493.45 126.16L501.87 127.93M493.45 143.1L501.84 144.99M493.45 160.04L501.81 162.05M493.45 176.98L501.77 179.16M493.45 193.92L501.72 196.26M493.45 210.86L501.68 213.37M493.45 227.8L501.62 230.47M493.45 244.74L501.57 247.57M493.45 261.68L501.53 264.62M493.45 278.62L501.49 281.67M493.45 295.56L501.45 298.72M493.45 312.5L501.4 315.77M493.45 329.44L501.36 332.82M493.45 346.38L501.31 349.86M493.45 363.32L501.27 366.9M493.45 380.26L501.22 383.95M493.45 397.2L500.97 401.38M493.45 414.14L500.81 418.58M493.45 431.08L500.45 436.08M493.45 448.02L499.79 453.83M505.4 58.4L513.91 59.64M505.4 75.34L513.89 76.7M505.4 92.28L513.87 93.77M505.4 109.22L513.85 110.83M505.4 126.16L513.82 127.9M505.4 143.1L513.8 144.96M505.4 160.04L513.77 162.02M505.4 176.98L513.73 179.13M505.4 193.92L513.68 196.24M505.4 210.86L513.63 213.35M505.4 227.8L513.58 230.46M505.4 244.74L513.52 247.57M505.4 261.68L513.48 264.62M505.4 278.62L513.44 281.67M505.4 295.56L513.4 298.72M505.4 312.5L513.36 315.77M505.4 329.44L513.31 332.81M505.4 346.38L513.27 349.85M505.4 363.32L513.23 366.89M505.4 380.26L513.18 383.93M505.4 397.2L512.93 401.35M505.4 414.14L512.8 418.53M505.4 431.08L512.42 436.05M505.4 448.02L511.75 453.82M517.35 58.4L525.87 59.59M517.35 75.34L525.85 76.66M517.35 92.28L525.83 93.73M517.35 109.22L525.8 110.79M517.35 126.16L525.78 127.86M517.35 143.1L525.75 144.93M517.35 160.04L525.73 161.99M517.35 176.98L525.68 179.11M517.35 193.92L525.64 196.22M517.35 210.86L525.59 213.34M517.35 227.8L525.53 230.45M517.35 244.74L525.47 247.56M517.35 261.68L525.43 264.61M517.35 278.62L525.39 281.66M517.35 295.56L525.35 298.71M517.35 312.5L525.31 315.76M517.35 329.44L525.26 332.81M517.35 346.38L525.22 349.84M517.35 363.32L525.18 366.87M517.35 380.26L525.14 383.91M517.35 397.2L524.9 401.32M517.35 414.14L524.78 418.48M517.35 431.08L524.4 436.01M517.35 448.02L523.71 453.81M529.3 58.4L537.82 59.55M529.3 75.34L537.8 76.62M529.3 92.28L537.78 93.69M529.3 109.22L537.76 110.76M529.3 126.16L537.74 127.83M529.3 143.1L537.71 144.9M529.3 160.04L537.68 161.96M529.3 176.98L537.64 179.08M529.3 193.92L537.59 196.2M529.3 210.86L537.54 213.32M529.3 227.8L537.49 230.44M529.3 244.74L537.43 247.55M529.3 261.68L537.39 264.6M529.3 278.62L537.35 281.66M529.3 295.56L537.3 298.71M529.3 312.5L537.26 315.76M529.3 329.44L537.21 332.81M529.3 346.38L537.18 349.83M529.3 363.32L537.14 366.86M529.3 380.26L537.1 383.89M529.3 397.2L536.86 401.3M529.3 414.14L536.76 418.43M529.3 431.08L536.37 435.97M529.3 448.02L535.67 453.8M541.25 58.4L549.78 59.5M541.25 75.34L549.76 76.58M541.25 92.28L549.74 93.65M541.25 109.22L549.72 110.72M541.25 126.16L549.69 127.79M541.25 143.1L549.67 144.86M541.25 160.04L549.64 161.94M541.25 176.98L549.59 179.06M541.25 193.92L549.55 196.18M541.25 210.86L549.5 213.3M541.25 227.8L549.44 230.43M541.25 244.74L549.38 247.55M541.25 261.68L549.34 264.6M541.25 278.62L549.3 281.65M541.25 295.56L549.26 298.7M541.25 312.5L549.21 315.75M541.25 329.44L549.17 332.8M541.25 346.38L549.13 349.82M541.25 363.32L549.1 366.84M541.25 380.26L549.06 383.87M541.25 397.2L548.83 401.27M541.25 414.14L548.74 418.37M541.25 431.08L548.35 435.94M541.25 448.02L547.63 453.79M553.2 58.4L561.73 59.46M553.2 75.34L561.72 76.53M553.2 92.28L561.7 93.61M553.2 109.22L561.67 110.68M553.2 126.16L561.65 127.76M553.2 143.1L561.62 144.83M553.2 160.04L561.6 161.91M553.2 176.98L561.55 179.03M553.2 193.92L561.5 196.16M553.2 210.86L561.45 213.29M553.2 227.8L561.39 230.41M553.2 244.74L561.33 247.54M553.2 261.68L561.29 264.59M553.2 278.62L561.25 281.64M553.2 295.56L561.21 298.7M553.2 312.5L561.16 315.75M553.2 329.44L561.12 332.8M553.2 346.38L561.08 349.81M553.2 363.32L561.05 366.83M553.2 380.26L561.01 383.85M553.2 397.2L560.79 401.24M553.2 414.14L560.71 418.32M553.2 431.08L560.32 435.9M565.15 58.4L573.7 59.37M565.15 75.34L573.68 76.44M565.15 92.28L573.66 93.52M565.15 109.22L573.64 110.59M565.15 126.16L573.62 127.66M565.15 143.1L573.59 144.73M565.15 160.04L573.57 161.81M565.15 176.98L573.52 178.96M565.15 193.92L573.47 196.11M565.15 210.86L573.41 213.27M565.15 227.8L573.34 230.41M565.15 244.74L573.27 247.56M565.15 261.68L573.23 264.62M565.15 278.62L573.19 281.67M565.15 295.56L573.15 298.71M565.15 312.5L573.11 315.76M565.15 329.44L573.06 332.81M565.15 346.38L573.02 349.84M565.15 363.32L572.99 366.86M565.15 380.26L572.94 383.89M565.15 397.2L572.78 401.17M565.15 414.14L572.7 418.27M565.15 431.08L572.34 435.8M577.1 58.4L585.66 59.27M577.1 75.34L585.64 76.34M577.1 92.28L585.62 93.41M577.1 109.22L585.61 110.48M577.1 126.16L585.59 127.56M577.1 143.1L585.56 144.63M577.1 160.04L585.54 161.7M577.1 176.98L585.49 178.88M577.1 193.92L585.43 196.06M577.1 210.86L585.36 213.24M577.1 227.8L585.29 230.42M577.1 244.74L585.21 247.59M577.1 261.68L585.17 264.64M577.1 278.62L585.13 281.69M577.1 295.56L585.09 298.74M577.1 312.5L585.05 315.78M577.1 329.44L585 332.83M577.1 346.38L584.96 349.87M577.1 363.32L584.92 366.91M577.1 380.26L584.87 383.95M577.1 397.2L584.78 401.08M577.1 414.14L584.68 418.21M577.1 431.08L584.36 435.69M589.05 58.4L597.62 59.17M589.05 75.34L597.6 76.24M589.05 92.28L597.59 93.31M589.05 109.22L597.57 110.38M589.05 126.16L597.55 127.45M589.05 143.1L597.53 144.52M589.05 160.04L597.51 161.58M589.05 176.98L597.46 178.8M589.05 193.92L597.39 196.01M589.05 210.86L597.32 213.21M589.05 227.8L597.24 230.42M589.05 244.74L597.15 247.62M589.05 261.68L597.11 264.67M589.05 278.62L597.07 281.72M589.05 295.56L597.03 298.76M589.05 312.5L596.99 315.8M589.05 329.44L596.95 332.85M589.05 346.38L596.9 349.9M589.05 363.32L596.85 366.95M589.05 380.26L596.79 384M589.05 397.2L596.77 400.99M589.05 414.14L596.66 418.15M601 58.4L609.57 59.08M601 75.34L609.56 76.14M601 92.28L609.55 93.21M601 109.22L609.54 110.27M601 126.16L609.52 127.34M601 143.1L609.5 144.41M601 160.04L609.48 161.47M601 176.98L609.42 178.71M601 193.92L609.36 195.95M601 210.86L609.28 213.19M601 227.8L609.19 230.42M601 244.74L609.09 247.65M601 261.68L609.05 264.7M601 278.62L609.01 281.74M601 295.56L608.97 298.78M601 312.5L608.93 315.83M601 329.44L608.89 332.87M601 346.38L608.83 349.93M601 363.32L608.78 366.99M601 380.26L608.72 384.05M612.95 58.4L621.53 59M612.95 75.34L621.52 76.07M612.95 92.28L621.51 93.13M612.95 109.22L621.49 110.2M612.95 126.16L621.48 127.26M612.95 143.1L621.46 144.32M612.95 160.04L621.44 161.39M612.95 176.98L621.39 178.65M612.95 193.92L621.32 195.91M612.95 210.86L621.23 213.17M612.95 227.8L621.14 230.43M612.95 244.74L621.03 247.68M612.95 261.68L620.99 264.72M612.95 278.62L620.96 281.76M612.95 295.56L620.92 298.8M612.95 312.5L620.87 315.84M612.95 329.44L620.83 332.88M624.9 58.4L633.48 59M624.9 75.34L633.47 76.07M624.9 92.28L633.46 93.13M624.9 109.22L633.44 110.2M624.9 126.16L633.43 127.26M624.9 143.1L633.41 144.32M624.9 160.04L633.39 161.39M624.9 176.98L633.34 178.65M624.9 193.92L633.27 195.91M624.9 210.86L633.18 213.17M624.9 244.74L632.98 247.68M636.85 75.34L645.42 76.07M636.85 227.8L645.43 228.4M648.8 75.34L656.17 79.77M660.75 92.28L668.27 96.45" stroke="#000" stroke-width="0.6" fill="none"/>
<path d="M74.21 61.14L70.75 61.82L71.47 58.91ZM74.19 78.15L70.72 78.81L71.47 75.91ZM74.17 95.17L70.7 95.8L71.46 92.9ZM74.15 112.19L70.67 112.8L71.46 109.9ZM74.13 129.21L70.64 129.79L71.45 126.9ZM74.11 146.23L70.62 146.79L71.45 143.9ZM74.08 163.25L70.59 163.78L71.44 160.9ZM74.07 180.23L70.58 180.74L71.44 177.87ZM74.06 197.2L70.56 197.71L71.44 194.84ZM74.05 214.18L70.55 214.68L71.43 211.81ZM74.04 231.16L70.54 231.64L71.43 228.78ZM74.03 248.14L70.52 248.61L71.43 245.74ZM73.94 265.34L70.43 265.72L71.4 262.88ZM73.85 282.54L70.33 282.84L71.37 280.02ZM73.75 299.74L70.22 299.95L71.33 297.16ZM73.64 316.94L70.11 317.06L71.29 314.3ZM73.53 334.14L69.99 334.17L71.24 331.44ZM73.4 351.34L69.87 351.28L71.19 348.59ZM73.27 368.54L69.74 368.39L71.13 365.73ZM73.12 385.77L69.59 385.52L71.05 382.9ZM71.9 404.47L68.49 403.56L70.42 401.26ZM86.16 61.14L82.7 61.82L83.42 58.91ZM86.14 78.15L82.67 78.81L83.42 75.9ZM86.12 95.17L82.65 95.8L83.41 92.9ZM86.1 112.19L82.62 112.8L83.41 109.9ZM86.08 129.21L82.59 129.79L83.4 126.9ZM86.06 146.23L82.57 146.79L83.4 143.9ZM86.03 163.25L82.54 163.78L83.39 160.9ZM86.02 180.23L82.53 180.74L83.39 177.87ZM86.01 197.2L82.51 197.71L83.39 194.84ZM86 214.18L82.5 214.68L83.38 211.81ZM85.99 231.16L82.49 231.64L83.38 228.78ZM85.98 248.14L82.47 248.61L83.38 245.74ZM85.89 265.34L82.38 265.72L83.35 262.88ZM85.8 282.54L82.28 282.84L83.32 280.02ZM85.7 299.74L82.17 299.95L83.28 297.16ZM85.59 316.94L82.06 317.06L83.24 314.3ZM85.48 334.14L81.94 334.17L83.19 331.44ZM85.35 351.34L81.82 351.28L83.14 348.59ZM85.22 368.54L81.69 368.39L83.08 365.73ZM85.07 385.77L81.54 385.52L83 382.9ZM83.85 404.47L80.44 403.56L82.37 401.26ZM98.12 61.11L94.65 61.8L95.37 58.88ZM98.1 78.13L94.63 78.79L95.37 75.89ZM98.08 95.15L94.6 95.79L95.37 92.89ZM98.06 112.17L94.58 112.79L95.36 109.89ZM98.03 129.2L94.55 129.78L95.36 126.89ZM98.01 146.22L94.52 146.78L95.35 143.89ZM97.99 163.24L94.49 163.77L95.34 160.9ZM97.97 180.22L94.48 180.74L95.34 177.87ZM97.96 197.21L94.46 197.71L95.34 194.84ZM97.95 214.19L94.45 214.68L95.33 211.81ZM97.93 231.17L94.43 231.65L95.33 228.79ZM97.92 248.16L94.42 248.62L95.32 245.76ZM97.84 265.35L94.32 265.73L95.3 262.89ZM97.75 282.55L94.22 282.84L95.27 280.03ZM97.65 299.74L94.12 299.95L95.23 297.17ZM97.54 316.94L94.01 317.06L95.19 314.3ZM97.43 334.12L93.9 334.16L95.14 331.43ZM97.3 351.34L93.77 351.28L95.09 348.59ZM97.17 368.55L93.64 368.4L95.02 365.74ZM97.01 385.78L93.48 385.53L94.95 382.91ZM95.89 404.36L92.47 403.49L94.37 401.17ZM110.08 61.08L106.61 61.78L107.32 58.86ZM110.06 78.1L106.59 78.78L107.32 75.87ZM110.03 95.13L106.56 95.77L107.32 92.87ZM110.01 112.16L106.53 112.77L107.31 109.88ZM109.99 129.18L106.5 129.77L107.31 126.88ZM109.96 146.21L106.48 146.77L107.3 143.88ZM109.94 163.23L106.45 163.77L107.29 160.89ZM109.93 180.22L106.43 180.74L107.29 177.87ZM109.91 197.21L106.41 197.71L107.29 194.84ZM109.9 214.2L106.4 214.69L107.28 211.82ZM109.88 231.19L106.38 231.66L107.28 228.8ZM109.87 248.17L106.36 248.63L107.27 245.77ZM109.78 265.36L106.27 265.74L107.25 262.9ZM109.69 282.56L106.17 282.85L107.22 280.03ZM109.6 299.74L106.07 299.95L107.18 297.17ZM109.5 316.93L105.96 317.06L107.14 314.3ZM109.39 334.11L105.85 334.16L107.09 331.42ZM109.25 351.34L105.72 351.28L107.04 348.59ZM109.11 368.56L105.58 368.4L106.97 365.75ZM108.95 385.8L105.43 385.54L106.9 382.92ZM107.93 404.25L104.49 403.43L106.36 401.08ZM107.57 421.62L104.18 420.63L106.16 418.38ZM122.03 61.05L118.57 61.76L119.28 58.84ZM122.01 78.08L118.54 78.76L119.27 75.85ZM121.99 95.11L118.52 95.76L119.27 92.85ZM121.97 112.14L118.49 112.76L119.26 109.86ZM121.94 129.16L118.46 129.76L119.26 126.87ZM121.92 146.19L118.43 146.76L119.25 143.87ZM121.89 163.22L118.4 163.76L119.24 160.88ZM121.88 180.22L118.38 180.74L119.24 177.86ZM121.86 197.21L118.36 197.71L119.24 194.84ZM121.84 214.2L118.34 214.69L119.23 211.82ZM121.83 231.2L118.32 231.67L119.23 228.81ZM121.81 248.19L118.3 248.64L119.22 245.79ZM121.73 265.38L118.21 265.75L119.19 262.91ZM121.64 282.56L118.12 282.85L119.16 280.04ZM121.55 299.75L118.02 299.95L119.13 297.17ZM121.45 316.93L117.92 317.05L119.09 314.29ZM121.34 334.1L117.81 334.15L119.05 331.42ZM121.2 351.34L117.67 351.28L118.99 348.59ZM121.06 368.57L117.53 368.41L118.92 365.75ZM120.89 385.81L117.37 385.55L118.84 382.93ZM119.96 404.15L116.52 403.36L118.36 401ZM119.56 421.57L116.16 420.6L118.14 418.34ZM133.99 61.02L130.53 61.74L131.23 58.82ZM133.97 78.05L130.5 78.74L131.22 75.83ZM133.95 95.09L130.47 95.74L131.22 92.84ZM133.92 112.12L130.44 112.75L131.21 109.85ZM133.9 129.15L130.41 129.75L131.21 126.86ZM133.87 146.18L130.38 146.75L131.2 143.86ZM133.85 163.21L130.35 163.75L131.2 160.87ZM133.83 180.21L130.33 180.73L131.19 177.86ZM133.81 197.21L130.31 197.71L131.19 194.84ZM133.79 214.21L130.29 214.7L131.18 211.83ZM133.77 231.21L130.27 231.68L131.17 228.82ZM133.75 248.21L130.25 248.66L131.17 245.8ZM133.67 265.39L130.16 265.76L131.14 262.92ZM133.59 282.57L130.07 282.86L131.11 280.05ZM133.5 299.75L129.97 299.95L131.08 297.17ZM133.4 316.92L129.87 317.05L131.04 314.29ZM133.3 334.09L129.76 334.14L131 331.41ZM133.16 351.34L129.62 351.28L130.94 348.58ZM133 368.58L129.47 368.42L130.87 365.76ZM132.83 385.83L129.31 385.56L130.79 382.95ZM132 404.04L128.54 403.3L130.36 400.91ZM131.55 421.53L128.15 420.57L130.11 418.3ZM145.95 60.99L142.49 61.72L143.18 58.8ZM145.93 78.03L142.46 78.72L143.17 75.81ZM145.9 95.06L142.43 95.73L143.17 92.82ZM145.88 112.1L142.4 112.73L143.16 109.83ZM145.85 129.13L142.37 129.74L143.16 126.84ZM145.83 146.17L142.34 146.74L143.15 143.86ZM145.8 163.2L142.31 163.75L143.15 160.87ZM145.78 180.21L142.28 180.73L143.14 177.86ZM145.76 197.21L142.26 197.72L143.14 194.85ZM145.74 214.22L142.24 214.7L143.13 211.84ZM145.72 231.23L142.21 231.68L143.12 228.83ZM145.7 248.23L142.19 248.67L143.12 245.82ZM145.62 265.4L142.1 265.76L143.09 262.93ZM145.53 282.58L142.01 282.86L143.06 280.05ZM145.45 299.75L141.92 299.95L143.03 297.17ZM145.35 316.92L141.82 317.05L142.99 314.28ZM145.25 334.08L141.72 334.14L142.95 331.4ZM145.11 351.33L141.57 351.28L142.89 348.58ZM144.95 368.58L141.42 368.42L142.82 365.77ZM144.77 385.84L141.25 385.57L142.73 382.96ZM144.03 403.93L140.56 403.23L142.35 400.82ZM143.54 421.49L140.13 420.55L142.08 418.27ZM157.91 60.96L154.45 61.7L155.13 58.78ZM157.88 78L154.42 78.71L155.13 75.79ZM157.86 95.04L154.39 95.71L155.12 92.8ZM157.83 112.08L154.36 112.72L155.12 109.82ZM157.81 129.12L154.33 129.73L155.11 126.83ZM157.78 146.16L154.29 146.73L155.1 143.85ZM157.75 163.19L154.26 163.74L155.1 160.86ZM157.73 180.2L154.24 180.73L155.09 177.85ZM157.71 197.22L154.21 197.72L155.09 194.85ZM157.69 214.23L154.19 214.71L155.08 211.84ZM157.66 231.24L154.16 231.69L155.07 228.84ZM157.64 248.25L154.13 248.68L155.07 245.83ZM157.56 265.42L154.05 265.77L155.04 262.94ZM157.48 282.58L153.96 282.87L155.01 280.06ZM157.4 299.75L153.87 299.95L154.98 297.17ZM157.3 316.91L153.77 317.04L154.94 314.28ZM157.21 334.07L153.67 334.13L154.9 331.39ZM157.06 351.33L153.52 351.28L154.84 348.58ZM156.89 368.59L153.36 368.43L154.76 365.77ZM156.72 385.86L153.19 385.58L154.68 382.97ZM156.06 403.82L152.59 403.16L154.34 400.73ZM155.52 421.44L152.11 420.52L154.05 418.23ZM169.86 60.94L166.41 61.68L167.08 58.76ZM169.84 77.98L166.38 78.69L167.08 75.77ZM169.81 95.02L166.34 95.7L167.07 92.79ZM169.79 112.06L166.31 112.71L167.07 109.8ZM169.76 129.1L166.28 129.72L167.06 126.82ZM169.73 146.14L166.25 146.73L167.05 143.84ZM169.7 163.18L166.21 163.73L167.05 160.85ZM169.68 180.2L166.19 180.73L167.04 177.85ZM169.66 197.22L166.16 197.72L167.04 194.85ZM169.63 214.23L166.13 214.71L167.03 211.85ZM169.61 231.25L166.1 231.7L167.02 228.85ZM169.59 248.27L166.08 248.69L167.01 245.84ZM169.51 265.43L165.99 265.78L166.99 262.95ZM169.43 282.59L165.91 282.87L166.96 280.06ZM169.35 299.75L165.82 299.96L166.93 297.17ZM169.26 316.91L165.72 317.04L166.89 314.28ZM169.16 334.06L165.63 334.12L166.86 331.38ZM169.01 351.33L165.47 351.28L166.79 348.58ZM168.84 368.6L165.31 368.43L166.71 365.78ZM168.66 385.87L165.14 385.59L166.63 382.98ZM168.09 403.71L164.61 403.09L166.34 400.64ZM167.51 421.4L164.1 420.49L166.02 418.19ZM181.82 60.91L178.37 61.66L179.03 58.73ZM181.79 77.95L178.33 78.67L179.03 75.75ZM181.77 95L178.3 95.68L179.02 92.77ZM181.74 112.04L178.27 112.69L179.02 109.79ZM181.71 129.09L178.24 129.71L179.01 126.81ZM181.69 146.13L178.2 146.72L179.01 143.83ZM181.66 163.17L178.17 163.73L179 160.85ZM181.63 180.2L178.14 180.72L178.99 177.85ZM181.61 197.22L178.11 197.72L178.98 194.85ZM181.58 214.24L178.08 214.72L178.98 211.85ZM181.56 231.26L178.05 231.71L178.97 228.86ZM181.53 248.29L178.02 248.71L178.96 245.86ZM181.46 265.44L177.94 265.79L178.94 262.96ZM181.38 282.6L177.85 282.87L178.91 280.07ZM181.29 299.75L177.77 299.96L178.88 297.17ZM181.21 316.9L177.68 317.04L178.84 314.27ZM181.12 334.05L177.58 334.11L178.81 331.38ZM180.96 351.33L177.42 351.28L178.74 348.58ZM180.79 368.61L177.26 368.44L178.66 365.79ZM180.6 385.89L177.08 385.59L178.57 382.99ZM180.12 403.6L176.63 403.02L178.33 400.55ZM179.5 421.35L176.08 420.46L177.99 418.15ZM178.73 439.13L175.42 437.9L177.55 435.8ZM193.77 60.88L190.32 61.64L190.98 58.71ZM193.75 77.93L190.29 78.65L190.98 75.73ZM193.72 94.97L190.26 95.67L190.97 92.75ZM193.7 112.02L190.22 112.68L190.97 109.78ZM193.67 129.07L190.19 129.7L190.96 126.8ZM193.64 146.12L190.16 146.71L190.96 143.82ZM193.61 163.16L190.12 163.72L190.95 160.84ZM193.58 180.19L190.09 180.72L190.94 177.85ZM193.56 197.22L190.06 197.72L190.93 194.85ZM193.53 214.25L190.03 214.72L190.93 211.86ZM193.5 231.28L190 231.72L190.92 228.87ZM193.47 248.31L189.96 248.72L190.91 245.87ZM193.4 265.45L189.88 265.8L190.89 262.97ZM193.32 282.6L189.8 282.88L190.86 280.07ZM193.24 299.75L189.72 299.96L190.83 297.17ZM193.16 316.9L189.63 317.03L190.8 314.27ZM193.07 334.04L189.54 334.11L190.76 331.37ZM192.91 351.33L189.37 351.28L190.69 348.58ZM192.73 368.62L189.2 368.44L190.61 365.79ZM192.54 385.9L189.02 385.6L190.52 383.01ZM192.14 403.48L188.65 402.95L190.32 400.46ZM191.49 421.31L188.06 420.44L189.96 418.12ZM190.71 439.1L187.39 437.89L189.52 435.77ZM205.73 60.85L202.28 61.62L202.93 58.69ZM205.71 77.9L202.25 78.64L202.93 75.71ZM205.68 94.95L202.22 95.65L202.92 92.74ZM205.65 112L202.18 112.67L202.92 109.76ZM205.62 129.05L202.15 129.68L202.91 126.78ZM205.59 146.1L202.11 146.7L202.91 143.81ZM205.56 163.16L202.07 163.71L202.9 160.83ZM205.53 180.19L202.04 180.72L202.89 177.84ZM205.51 197.22L202.01 197.72L202.88 194.85ZM205.48 214.26L201.97 214.73L202.88 211.86ZM205.45 231.29L201.94 231.73L202.87 228.88ZM205.42 248.32L201.91 248.73L202.86 245.89ZM205.35 265.47L201.83 265.81L202.83 262.98ZM205.27 282.61L201.75 282.88L202.81 280.08ZM205.19 299.75L201.67 299.96L202.78 297.17ZM205.11 316.89L201.58 317.03L202.75 314.27ZM205.03 334.03L201.49 334.1L202.71 331.36ZM204.86 351.33L201.33 351.28L202.64 348.58ZM204.68 368.62L201.15 368.45L202.56 365.8ZM204.48 385.92L200.96 385.61L202.46 383.02ZM204.17 403.37L200.67 402.88L202.31 400.37ZM203.47 421.26L200.04 420.41L201.93 418.08ZM202.69 439.07L199.36 437.87L201.49 435.75ZM217.68 60.84L214.24 61.61L214.88 58.68ZM217.66 77.89L214.2 78.63L214.88 75.71ZM217.63 94.95L214.17 95.65L214.88 92.73ZM217.6 112L214.13 112.67L214.87 109.76ZM217.57 129.05L214.1 129.68L214.86 126.78ZM217.54 146.1L214.06 146.7L214.86 143.81ZM217.51 163.15L214.02 163.71L214.85 160.83ZM217.48 180.19L213.99 180.72L214.84 177.85ZM217.45 197.23L213.95 197.73L214.83 194.86ZM217.42 214.27L213.92 214.74L214.82 211.88ZM217.39 231.31L213.88 231.74L214.82 228.89ZM217.36 248.35L213.85 248.75L214.8 245.9ZM217.29 265.48L213.77 265.82L214.78 262.99ZM217.22 282.62L213.69 282.89L214.76 280.09ZM217.14 299.76L213.61 299.96L214.73 297.18ZM217.06 316.89L213.53 317.03L214.7 314.27ZM216.98 334.02L213.44 334.1L214.66 331.36ZM216.82 351.31L213.28 351.27L214.59 348.57ZM216.64 368.6L213.11 368.43L214.51 365.78ZM216.45 385.88L212.93 385.59L214.42 382.99ZM216.14 403.34L212.63 402.86L214.26 400.34ZM215.49 421.18L212.05 420.36L213.92 418.02ZM214.72 438.99L211.38 437.82L213.48 435.68ZM229.64 60.83L226.19 61.61L226.83 58.68ZM229.61 77.88L226.15 78.63L226.83 75.7ZM229.58 94.94L226.12 95.64L226.83 92.73ZM229.55 111.99L226.08 112.66L226.82 109.75ZM229.52 129.05L226.05 129.68L226.81 126.78ZM229.49 146.1L226.01 146.7L226.81 143.81ZM229.46 163.15L225.97 163.71L226.8 160.83ZM229.43 180.2L225.94 180.73L226.79 177.85ZM229.4 197.24L225.9 197.74L226.78 194.87ZM229.37 214.29L225.86 214.75L226.77 211.89ZM229.33 231.33L225.83 231.75L226.76 228.9ZM229.3 248.37L225.79 248.76L226.75 245.92ZM229.23 265.5L225.71 265.83L226.73 263.01ZM229.16 282.63L225.64 282.9L226.7 280.1ZM229.09 299.76L225.56 299.97L226.68 297.18ZM229.01 316.89L225.48 317.03L226.65 314.27ZM228.93 334.02L225.4 334.09L226.61 331.35ZM228.77 351.3L225.24 351.26L226.55 348.55ZM228.6 368.58L225.07 368.42L226.47 365.76ZM228.42 385.85L224.9 385.57L226.38 382.96ZM228.1 403.32L224.6 402.85L226.22 400.32ZM227.5 421.11L224.05 420.32L225.9 417.95ZM226.75 438.91L223.4 437.77L225.48 435.61ZM241.59 60.82L238.14 61.6L238.78 58.67ZM241.56 77.88L238.11 78.62L238.78 75.7ZM241.53 94.93L238.07 95.64L238.78 92.72ZM241.51 111.99L238.04 112.66L238.77 109.75ZM241.48 129.04L238 129.68L238.76 126.78ZM241.44 146.1L237.96 146.7L238.76 143.8ZM241.41 163.15L237.92 163.71L238.75 160.83ZM241.38 180.2L237.89 180.73L238.74 177.85ZM241.35 197.25L237.85 197.74L238.73 194.88ZM241.31 214.3L237.81 214.75L238.72 211.9ZM241.28 231.35L237.77 231.77L238.71 228.92ZM241.24 248.4L237.73 248.78L238.7 245.94ZM241.18 265.52L237.66 265.84L238.68 263.02ZM241.11 282.65L237.58 282.91L238.65 280.1ZM241.04 299.77L237.51 299.97L238.63 297.19ZM240.96 316.89L237.43 317.03L238.6 314.27ZM240.88 334.01L237.35 334.09L238.56 331.35ZM240.73 351.28L237.2 351.25L238.5 348.54ZM240.57 368.55L237.04 368.4L238.42 365.74ZM240.39 385.82L236.87 385.55L238.34 382.94ZM240.07 403.29L236.56 402.83L238.18 400.3ZM239.51 421.03L236.06 420.27L237.89 417.89ZM238.78 438.82L235.42 437.72L237.48 435.54ZM253.54 60.81L250.09 61.59L250.73 58.66ZM253.51 77.87L250.06 78.61L250.73 75.69ZM253.49 94.93L250.02 95.64L250.73 92.72ZM253.46 111.98L249.99 112.66L250.72 109.75ZM253.43 129.04L249.95 129.68L250.71 126.78ZM253.39 146.1L249.91 146.7L250.71 143.8ZM253.36 163.15L249.87 163.71L250.7 160.83ZM253.33 180.21L249.83 180.73L250.69 177.86ZM253.29 197.26L249.79 197.75L250.68 194.88ZM253.26 214.32L249.75 214.76L250.67 211.91ZM253.22 231.37L249.71 231.78L250.66 228.93ZM253.18 248.42L249.67 248.8L250.65 245.96ZM253.12 265.54L249.6 265.86L250.63 263.04ZM253.05 282.66L249.53 282.92L250.6 280.11ZM252.98 299.78L249.46 299.97L250.57 297.19ZM252.91 316.89L249.38 317.03L250.55 314.27ZM252.84 334.01L249.3 334.09L250.51 331.34ZM252.69 351.27L249.15 351.24L250.45 348.53ZM252.53 368.53L249 368.38L250.38 365.72ZM252.36 385.78L248.83 385.53L250.3 382.91ZM252.03 403.26L248.53 402.81L250.14 400.28ZM251.52 420.95L248.06 420.22L249.87 417.83ZM250.81 438.73L247.44 437.67L249.47 435.46ZM265.49 60.8L262.05 61.59L262.68 58.66ZM265.47 77.86L262.01 78.61L262.68 75.68ZM265.44 94.92L261.98 95.63L262.68 92.71ZM265.41 111.98L261.94 112.65L262.67 109.74ZM265.38 129.04L261.9 129.67L262.66 126.77ZM265.35 146.1L261.86 146.69L262.66 143.8ZM265.31 163.15L261.82 163.71L262.65 160.83ZM265.28 180.21L261.78 180.74L262.64 177.86ZM265.24 197.27L261.74 197.76L262.63 194.89ZM265.2 214.33L261.7 214.77L262.62 211.92ZM265.17 231.39L261.65 231.79L262.61 228.95ZM265.13 248.44L261.61 248.81L262.59 245.98ZM265.06 265.56L261.54 265.87L262.57 263.05ZM265 282.67L261.47 282.92L262.55 280.12ZM264.93 299.78L261.4 299.98L262.52 297.2ZM264.86 316.89L261.33 317.03L262.5 314.27ZM264.79 334L261.25 334.08L262.47 331.34ZM264.65 351.25L261.11 351.23L262.41 348.52ZM264.49 368.5L260.96 368.37L262.34 365.7ZM264.33 385.75L260.8 385.51L262.26 382.88ZM264 403.24L260.49 402.8L262.1 400.26ZM263.53 420.87L260.06 420.17L261.85 417.76ZM262.84 438.65L259.46 437.62L261.47 435.39ZM277.44 60.79L274 61.58L274.63 58.65ZM277.42 77.85L273.96 78.6L274.63 75.68ZM277.39 94.91L273.93 95.63L274.63 92.71ZM277.36 111.97L273.89 112.65L274.62 109.74ZM277.33 129.04L273.85 129.67L274.62 126.77ZM277.3 146.1L273.81 146.69L274.61 143.8ZM277.26 163.15L273.77 163.71L274.6 160.83ZM277.23 180.22L273.73 180.74L274.59 177.86ZM277.19 197.28L273.69 197.76L274.58 194.9ZM277.15 214.34L273.64 214.78L274.57 211.93ZM277.11 231.41L273.6 231.81L274.56 228.96ZM277.07 248.47L273.55 248.83L274.54 246ZM277.01 265.58L273.49 265.88L274.52 263.06ZM276.94 282.68L273.42 282.93L274.5 280.13ZM276.88 299.79L273.35 299.98L274.47 297.2ZM276.81 316.89L273.28 317.03L274.45 314.27ZM276.74 334L273.21 334.08L274.42 331.34ZM276.6 351.24L273.07 351.22L274.36 348.51ZM276.46 368.48L272.92 368.35L274.29 365.68ZM276.3 385.71L272.77 385.48L274.22 382.86ZM275.97 403.21L272.46 402.78L274.06 400.24ZM275.53 420.79L272.06 420.12L273.83 417.7ZM274.87 438.56L271.48 437.57L273.46 435.32ZM289.4 60.78L285.95 61.57L286.58 58.64ZM289.37 77.84L285.92 78.6L286.58 75.67ZM289.34 94.91L285.88 95.62L286.58 92.7ZM289.31 111.97L285.84 112.65L286.57 109.74ZM289.28 129.03L285.8 129.67L286.57 126.77ZM289.25 146.09L285.76 146.69L286.56 143.8ZM289.21 163.16L285.72 163.71L286.55 160.83ZM289.17 180.22L285.68 180.74L286.54 177.87ZM289.14 197.29L285.63 197.77L286.53 194.9ZM289.09 214.36L285.59 214.79L286.52 211.94ZM289.05 231.43L285.54 231.82L286.5 228.98ZM289.01 248.49L285.49 248.84L286.49 246.01ZM288.95 265.59L285.43 265.89L286.47 263.08ZM288.89 282.7L285.36 282.94L286.45 280.14ZM288.83 299.8L285.3 299.99L286.42 297.21ZM288.76 316.89L285.23 317.03L286.4 314.27ZM288.69 333.99L285.16 334.08L286.37 331.33ZM288.56 351.22L285.03 351.21L286.31 348.5ZM288.42 368.45L284.89 368.33L286.25 365.66ZM288.27 385.68L284.74 385.46L286.18 382.83ZM287.93 403.19L284.42 402.76L286.01 400.22ZM287.54 420.71L284.07 420.07L285.81 417.63ZM286.9 438.47L283.5 437.51L285.46 435.24ZM301.35 60.77L297.9 61.57L298.53 58.63ZM301.32 77.84L297.87 78.59L298.53 75.67ZM301.29 94.9L297.83 95.62L298.53 92.7ZM301.26 111.97L297.79 112.64L298.52 109.73ZM301.23 129.03L297.75 129.67L298.52 126.77ZM301.2 146.09L297.71 146.69L298.51 143.8ZM301.16 163.16L297.67 163.71L298.5 160.83ZM301.12 180.23L297.63 180.75L298.49 177.87ZM301.08 197.3L297.58 197.77L298.48 194.91ZM301.04 214.37L297.53 214.8L298.46 211.95ZM301 231.44L297.48 231.83L298.45 228.99ZM300.95 248.52L297.43 248.86L298.44 246.03ZM300.89 265.61L297.37 265.9L298.42 263.09ZM300.83 282.71L297.31 282.95L298.39 280.15ZM300.77 299.8L297.24 299.99L298.37 297.21ZM300.71 316.9L297.18 317.03L298.35 314.27ZM300.64 333.99L297.11 334.07L298.32 331.33ZM300.52 351.21L296.98 351.2L298.26 348.48ZM300.38 368.43L296.85 368.32L298.2 365.64ZM300.23 385.65L296.71 385.44L298.14 382.8ZM299.9 403.16L296.39 402.75L297.97 400.2ZM299.55 420.63L296.07 420.02L297.79 417.57ZM298.92 438.38L295.51 437.46L297.45 435.17ZM313.3 60.76L309.86 61.56L310.48 58.63ZM313.27 77.83L309.82 78.59L310.48 75.66ZM313.24 94.89L309.78 95.61L310.48 92.7ZM313.21 111.96L309.74 112.64L310.47 109.73ZM313.18 129.03L309.7 129.67L310.47 126.76ZM313.15 146.09L309.66 146.69L310.46 143.8ZM313.11 163.16L309.62 163.71L310.45 160.83ZM313.07 180.23L309.58 180.75L310.44 177.88ZM313.03 197.31L309.53 197.78L310.43 194.92ZM312.99 214.39L309.48 214.81L310.41 211.96ZM312.94 231.46L309.43 231.85L310.4 229.01ZM312.89 248.54L309.37 248.88L310.38 246.05ZM312.84 265.63L309.31 265.92L310.36 263.11ZM312.78 282.72L309.25 282.96L310.34 280.16ZM312.72 299.81L309.19 300L310.32 297.22ZM312.66 316.9L309.13 317.03L310.3 314.27ZM312.6 333.98L309.06 334.07L310.27 331.32ZM312.47 351.19L308.94 351.19L310.22 348.47ZM312.34 368.4L308.81 368.3L310.16 365.62ZM312.2 385.61L308.67 385.42L310.09 382.77ZM311.86 403.14L308.35 402.73L309.93 400.18ZM311.55 420.55L308.07 419.97L309.77 417.5ZM310.95 438.29L307.53 437.4L309.44 435.09ZM325.25 60.75L321.81 61.55L322.43 58.62ZM325.22 77.82L321.77 78.58L322.43 75.65ZM325.19 94.89L321.73 95.61L322.43 92.69ZM325.16 111.96L321.7 112.64L322.42 109.73ZM325.13 129.02L321.66 129.66L322.42 126.76ZM325.1 146.09L321.61 146.69L322.41 143.8ZM325.06 163.16L321.57 163.71L322.4 160.83ZM325.02 180.24L321.52 180.75L322.39 177.88ZM324.98 197.32L321.47 197.79L322.38 194.93ZM324.93 214.4L321.42 214.82L322.36 211.97ZM324.88 231.48L321.37 231.86L322.35 229.02ZM324.83 248.56L321.31 248.89L322.33 246.07ZM324.78 265.65L321.26 265.93L322.31 263.12ZM324.73 282.73L321.2 282.96L322.29 280.17ZM324.67 299.81L321.14 300L322.27 297.22ZM324.61 316.9L321.08 317.03L322.25 314.27ZM324.55 333.98L321.02 334.07L322.22 331.32ZM324.43 351.18L320.9 351.18L322.17 348.46ZM324.31 368.38L320.77 368.29L322.12 365.6ZM324.17 385.58L320.64 385.39L322.05 382.75ZM323.83 403.11L320.32 402.72L321.89 400.16ZM323.56 420.47L320.07 419.92L321.75 417.44ZM337.21 60.72L333.77 61.53L334.39 58.59ZM337.18 77.79L333.73 78.56L334.38 75.63ZM337.15 94.86L333.69 95.59L334.38 92.67ZM337.12 111.92L333.66 112.61L334.37 109.7ZM337.09 128.99L333.62 129.64L334.37 126.74ZM337.06 146.06L333.57 146.67L334.36 143.77ZM337.02 163.13L333.53 163.7L334.35 160.81ZM336.98 180.22L333.48 180.74L334.34 177.86ZM336.93 197.3L333.43 197.78L334.33 194.91ZM336.88 214.39L333.38 214.82L334.31 211.97ZM336.84 231.48L333.32 231.85L334.3 229.02ZM336.78 248.56L333.27 248.89L334.28 246.07ZM336.73 265.64L333.21 265.93L334.26 263.12ZM336.68 282.73L333.15 282.96L334.24 280.17ZM336.62 299.81L333.09 300L334.22 297.22ZM336.56 316.89L333.03 317.03L334.2 314.26ZM336.5 333.97L332.97 334.06L334.17 331.31ZM336.39 351.16L332.86 351.17L334.12 348.45ZM336.27 368.35L332.74 368.27L334.07 365.58ZM336.14 385.54L332.61 385.37L334.01 382.72ZM335.8 403.09L332.28 402.7L333.85 400.14ZM335.52 420.45L332.03 419.91L333.71 417.42ZM334.95 438.17L331.52 437.33L333.4 434.99ZM349.17 60.68L345.73 61.5L346.34 58.56ZM349.14 77.75L345.69 78.53L346.33 75.6ZM349.11 94.82L345.66 95.56L346.33 92.64ZM349.08 111.89L345.62 112.59L346.33 109.68ZM349.05 128.96L345.58 129.62L346.32 126.71ZM349.01 146.03L345.53 146.65L346.31 143.75ZM348.98 163.1L345.49 163.68L346.3 160.79ZM348.93 180.19L345.44 180.72L346.29 177.84ZM348.89 197.28L345.39 197.76L346.28 194.9ZM348.84 214.37L345.33 214.81L346.26 211.95ZM348.79 231.47L345.28 231.85L346.25 229.01ZM348.74 248.55L345.22 248.89L346.23 246.06ZM348.68 265.64L345.16 265.92L346.21 263.11ZM348.63 282.72L345.1 282.96L346.19 280.16ZM348.57 299.8L345.04 299.99L346.17 297.21ZM348.52 316.88L344.98 317.02L346.15 314.26ZM348.46 333.96L344.92 334.06L346.12 331.31ZM348.35 351.14L344.81 351.15L346.08 348.43ZM348.23 368.32L344.7 368.25L346.03 365.56ZM348.11 385.51L344.58 385.35L345.97 382.69ZM347.76 403.06L344.25 402.68L345.8 400.12ZM347.48 420.43L343.99 419.9L345.66 417.41ZM361.13 60.64L357.69 61.48L358.29 58.54ZM361.1 77.71L357.65 78.51L358.28 75.57ZM361.07 94.79L357.62 95.54L358.28 92.61ZM361.04 111.86L357.58 112.57L358.28 109.65ZM361.01 128.93L357.54 129.6L358.27 126.69ZM360.97 146L357.49 146.63L358.26 143.73ZM360.94 163.07L357.45 163.66L358.26 160.77ZM360.89 180.17L357.4 180.7L358.24 177.83ZM360.84 197.26L357.34 197.75L358.23 194.88ZM360.79 214.36L357.29 214.8L358.22 211.94ZM360.74 231.46L357.23 231.84L358.2 229ZM360.69 248.55L357.17 248.88L358.18 246.06ZM360.64 265.63L357.11 265.92L358.16 263.11ZM360.58 282.71L357.06 282.95L358.14 280.16ZM360.53 299.8L357 299.99L358.12 297.21ZM360.47 316.88L356.94 317.02L358.1 314.25ZM360.41 333.96L356.88 334.05L358.07 331.3ZM360.3 351.13L356.77 351.14L358.03 348.42ZM360.19 368.3L356.66 368.23L357.98 365.54ZM360.08 385.47L356.54 385.33L357.93 382.67ZM359.73 403.04L356.21 402.67L357.76 400.1ZM359.45 420.42L355.95 419.89L357.62 417.39ZM373.08 60.6L369.65 61.45L370.24 58.51ZM373.06 77.68L369.61 78.48L370.24 75.55ZM373.03 94.75L369.58 95.51L370.23 92.59ZM373 111.82L369.54 112.55L370.23 109.63ZM372.96 128.9L369.5 129.58L370.22 126.67ZM372.93 145.97L369.45 146.61L370.22 143.71ZM372.89 163.04L369.41 163.64L370.21 160.75ZM372.85 180.15L369.36 180.69L370.2 177.81ZM372.8 197.25L369.3 197.74L370.18 194.87ZM372.75 214.35L369.24 214.79L370.17 211.93ZM372.7 231.45L369.18 231.83L370.15 228.99ZM372.64 248.54L369.12 248.88L370.13 246.05ZM372.59 265.63L369.07 265.91L370.11 263.1ZM372.53 282.71L369.01 282.95L370.09 280.15ZM372.48 299.79L368.95 299.98L370.07 297.2ZM372.42 316.87L368.89 317.02L370.05 314.25ZM372.36 333.95L368.83 334.05L370.03 331.3ZM372.26 351.11L368.73 351.13L369.98 348.41ZM372.16 368.27L368.62 368.22L369.94 365.52ZM372.04 385.44L368.51 385.3L369.89 382.64ZM371.69 403.01L368.18 402.65L369.72 400.08ZM371.41 420.4L367.91 419.88L369.57 417.38ZM370.88 438.07L367.43 437.27L369.29 434.92ZM385.04 60.56L381.61 61.42L382.19 58.48ZM385.01 77.64L381.58 78.46L382.19 75.52ZM384.98 94.72L381.54 95.49L382.18 92.56ZM384.95 111.79L381.5 112.52L382.18 109.6ZM384.92 128.87L381.46 129.56L382.17 126.64ZM384.89 145.94L381.41 146.59L382.17 143.68ZM384.85 163.02L381.37 163.62L382.16 160.73ZM384.8 180.12L381.31 180.67L382.15 177.79ZM384.76 197.23L381.26 197.72L382.13 194.86ZM384.7 214.33L381.2 214.78L382.12 211.92ZM384.65 231.43L381.14 231.83L382.1 228.99ZM384.59 248.54L381.07 248.88L382.08 246.05ZM384.54 265.62L381.02 265.91L382.06 263.1ZM384.49 282.7L380.96 282.94L382.04 280.15ZM384.43 299.78L380.9 299.98L382.02 297.2ZM384.37 316.86L380.84 317.01L382 314.24ZM384.31 333.94L380.78 334.04L381.98 331.29ZM384.22 351.09L380.69 351.12L381.94 348.4ZM384.12 368.25L380.59 368.2L381.89 365.5ZM384.01 385.4L380.48 385.28L381.85 382.61ZM383.66 402.99L380.14 402.64L381.68 400.06ZM383.37 420.38L379.87 419.87L381.53 417.37ZM382.85 438.04L379.4 437.25L381.25 434.89ZM397 60.52L393.57 61.4L394.14 58.45ZM396.97 77.6L393.54 78.43L394.14 75.49ZM396.94 94.68L393.5 95.47L394.13 92.53ZM396.91 111.76L393.46 112.5L394.13 109.58ZM396.88 128.83L393.41 129.53L394.12 126.62ZM396.84 145.91L393.37 146.57L394.12 143.66ZM396.81 162.99L393.33 163.6L394.11 160.7ZM396.76 180.1L393.27 180.66L394.1 177.77ZM396.71 197.21L393.21 197.71L394.09 194.84ZM396.66 214.32L393.15 214.77L394.07 211.91ZM396.6 231.42L393.09 231.82L394.05 228.98ZM396.54 248.53L393.03 248.87L394.03 246.05ZM396.49 265.61L392.97 265.91L394.02 263.09ZM396.44 282.7L392.91 282.94L394 280.14ZM396.38 299.78L392.86 299.97L393.97 297.19ZM396.33 316.86L392.8 317.01L393.95 314.24ZM396.27 333.93L392.74 334.04L393.93 331.29ZM396.18 351.08L392.64 351.11L393.89 348.38ZM396.08 368.22L392.55 368.18L393.85 365.48ZM395.98 385.37L392.45 385.26L393.8 382.58ZM395.62 402.96L392.1 402.62L393.63 400.04ZM395.33 420.37L391.83 419.86L393.49 417.35ZM394.82 438.01L391.38 437.23L393.22 434.87ZM408.96 60.49L405.53 61.37L406.09 58.42ZM408.93 77.57L405.5 78.41L406.09 75.46ZM408.9 94.64L405.46 95.44L406.08 92.51ZM408.87 111.72L405.42 112.48L406.08 109.55ZM408.84 128.8L405.37 129.51L406.08 126.6ZM408.8 145.88L405.33 146.55L406.07 143.64ZM408.77 162.96L405.29 163.58L406.06 160.68ZM408.72 180.07L405.23 180.64L406.05 177.75ZM408.67 197.19L405.17 197.7L406.04 194.83ZM408.61 214.3L405.11 214.76L406.02 211.9ZM408.56 231.41L405.04 231.81L406 228.97ZM408.5 248.53L404.98 248.87L405.98 246.04ZM408.45 265.61L404.92 265.9L405.97 263.09ZM408.39 282.69L404.87 282.94L405.95 280.14ZM408.34 299.77L404.81 299.97L405.93 297.19ZM408.28 316.85L404.75 317L405.9 314.23ZM408.22 333.93L404.69 334.03L405.88 331.28ZM408.13 351.06L404.6 351.1L405.84 348.37ZM408.04 368.19L404.51 368.17L405.8 365.46ZM407.95 385.33L404.41 385.24L405.76 382.56ZM407.59 402.93L404.07 402.6L405.59 400.02ZM407.29 420.35L403.79 419.85L405.44 417.34ZM406.8 437.98L403.35 437.22L405.18 434.84ZM406.07 455.77L402.72 454.67L404.77 452.48ZM420.91 60.45L417.49 61.34L418.04 58.39ZM420.89 77.53L417.46 78.38L418.04 75.44ZM420.86 94.61L417.42 95.42L418.04 92.48ZM420.83 111.69L417.38 112.45L418.03 109.53ZM420.79 128.77L417.33 129.49L418.03 126.57ZM420.76 145.85L417.29 146.53L418.02 143.62ZM420.72 162.93L417.25 163.56L418.01 160.66ZM420.68 180.05L417.19 180.62L418 177.74ZM420.62 197.17L417.13 197.69L417.99 194.81ZM420.57 214.29L417.06 214.75L417.97 211.89ZM420.51 231.4L417 231.81L417.96 228.96ZM420.45 248.52L416.93 248.86L417.94 246.04ZM420.4 265.6L416.88 265.9L417.92 263.09ZM420.34 282.68L416.82 282.93L417.9 280.13ZM420.29 299.76L416.76 299.97L417.88 297.18ZM420.23 316.84L416.7 317L417.85 314.23ZM420.17 333.92L416.64 334.03L417.83 331.27ZM420.09 351.04L416.56 351.09L417.8 348.36ZM420.01 368.17L416.47 368.15L417.76 365.44ZM419.91 385.3L416.38 385.21L417.72 382.53ZM419.55 402.91L416.03 402.59L417.55 400ZM419.25 420.33L415.75 419.84L417.4 417.33ZM418.77 437.95L415.32 437.2L417.14 434.81ZM418.04 455.76L414.68 454.66L416.73 452.47ZM432.87 60.41L429.45 61.32L429.99 58.36ZM432.84 77.49L429.42 78.35L429.99 75.41ZM432.81 94.57L429.38 95.39L429.99 92.46ZM432.78 111.66L429.34 112.43L429.98 109.5ZM432.75 128.74L429.29 129.47L429.98 126.55ZM432.72 145.82L429.25 146.51L429.97 143.59ZM432.68 162.9L429.21 163.54L429.97 160.64ZM432.63 180.03L429.15 180.61L429.95 177.72ZM432.58 197.15L429.08 197.67L429.94 194.8ZM432.52 214.27L429.02 214.74L429.92 211.88ZM432.46 231.39L428.95 231.8L429.91 228.95ZM432.4 248.52L428.88 248.86L429.89 246.03ZM432.35 265.6L428.83 265.89L429.87 263.08ZM432.3 282.68L428.77 282.93L429.85 280.13ZM432.24 299.76L428.71 299.96L429.83 297.18ZM432.19 316.84L428.65 316.99L429.81 314.22ZM432.13 333.91L428.59 334.02L429.78 331.27ZM432.05 351.03L428.52 351.08L429.75 348.34ZM431.97 368.14L428.44 368.13L429.72 365.42ZM431.88 385.26L428.35 385.19L429.68 382.5ZM431.52 402.88L428 402.57L429.51 399.98ZM431.21 420.32L427.71 419.82L429.35 417.31ZM430.74 437.92L427.29 437.18L429.11 434.79ZM444.83 60.37L441.41 61.29L441.94 58.33ZM444.8 77.45L441.38 78.33L441.94 75.38ZM444.77 94.54L441.34 95.37L441.94 92.43ZM444.74 111.62L441.3 112.41L441.93 109.48ZM444.71 128.71L441.25 129.45L441.93 126.52ZM444.68 145.79L441.21 146.49L441.92 143.57ZM444.64 162.87L441.17 163.52L441.92 160.62ZM444.59 180L441.1 180.59L441.91 177.7ZM444.53 197.13L441.04 197.66L441.89 194.78ZM444.48 214.26L440.97 214.73L441.88 211.87ZM444.42 231.38L440.91 231.79L441.86 228.95ZM444.35 248.51L440.84 248.86L441.84 246.03ZM444.3 265.59L440.78 265.89L441.82 263.08ZM444.25 282.67L440.72 282.92L441.8 280.12ZM444.19 299.75L440.67 299.96L441.78 297.17ZM444.14 316.83L440.61 316.99L441.76 314.22ZM444.08 333.91L440.55 334.02L441.73 331.26ZM444.01 351.01L440.47 351.07L441.7 348.33ZM443.93 368.12L440.4 368.12L441.67 365.4ZM443.85 385.23L440.32 385.17L441.63 382.47ZM443.48 402.86L439.96 402.55L441.46 399.96ZM443.17 420.3L439.67 419.81L441.31 417.3ZM442.72 437.89L439.26 437.16L441.07 434.76ZM456.79 60.31L453.38 61.25L453.89 58.29ZM456.76 77.4L453.34 78.29L453.89 75.34ZM456.73 94.49L453.3 95.33L453.89 92.39ZM456.7 111.58L453.26 112.38L453.88 109.44ZM456.67 128.66L453.22 129.42L453.88 126.49ZM456.63 145.75L453.17 146.46L453.88 143.54ZM456.6 162.84L453.13 163.5L453.87 160.59ZM456.55 179.97L453.06 180.57L453.86 177.68ZM456.49 197.1L453 197.64L453.84 194.76ZM456.43 214.24L452.93 214.71L453.83 211.85ZM456.37 231.37L452.86 231.78L453.81 228.94ZM456.31 248.5L452.79 248.85L453.79 246.02ZM456.25 265.58L452.73 265.89L453.77 263.07ZM456.2 282.66L452.68 282.92L453.75 280.12ZM456.15 299.74L452.62 299.95L453.73 297.16ZM456.09 316.82L452.56 316.98L453.71 314.21ZM456.03 333.9L452.5 334.02L453.68 331.26ZM455.96 351L452.43 351.06L453.66 348.32ZM455.89 368.1L452.36 368.1L453.62 365.38ZM455.81 385.2L452.28 385.15L453.59 382.45ZM455.45 402.83L451.93 402.53L453.42 399.93ZM455.16 420.24L451.66 419.78L453.28 417.25ZM454.7 437.84L451.24 437.13L453.04 434.73ZM468.75 60.26L465.34 61.21L465.84 58.25ZM468.72 77.35L465.3 78.25L465.84 75.3ZM468.69 94.44L465.26 95.3L465.84 92.35ZM468.66 111.53L465.22 112.34L465.84 109.41ZM468.63 128.62L465.18 129.39L465.83 126.46ZM468.59 145.71L465.13 146.43L465.83 143.51ZM468.56 162.8L465.09 163.47L465.82 160.56ZM468.51 179.94L465.02 180.55L465.81 177.65ZM468.45 197.08L464.96 197.62L465.8 194.74ZM468.39 214.22L464.89 214.7L465.78 211.83ZM468.33 231.36L464.82 231.77L465.76 228.92ZM468.26 248.49L464.74 248.84L465.74 246.01ZM468.21 265.57L464.69 265.88L465.72 263.06ZM468.15 282.66L464.63 282.91L465.7 280.11ZM468.1 299.74L464.57 299.95L465.68 297.16ZM468.04 316.82L464.51 316.98L465.66 314.21ZM467.98 333.89L464.45 334.01L465.64 331.25ZM467.92 350.99L464.38 351.05L465.61 348.31ZM467.85 368.08L464.32 368.09L465.58 365.37ZM467.77 385.18L464.24 385.14L465.55 382.43ZM467.42 402.79L463.9 402.51L465.38 399.9ZM467.15 420.18L463.65 419.73L465.25 417.2ZM466.69 437.8L463.22 437.1L465.01 434.69ZM480.71 60.2L477.31 61.17L477.79 58.21ZM480.68 77.29L477.27 78.22L477.79 75.26ZM480.65 94.39L477.23 95.26L477.79 92.32ZM480.62 111.48L477.19 112.31L477.79 109.37ZM480.59 128.57L477.14 129.36L477.78 126.43ZM480.55 145.67L477.1 146.4L477.78 143.48ZM480.52 162.76L477.05 163.45L477.77 160.53ZM480.46 179.91L476.99 180.53L477.76 177.63ZM480.41 197.05L476.92 197.61L477.75 194.72ZM480.35 214.2L476.85 214.68L477.73 211.82ZM480.28 231.34L476.77 231.76L477.71 228.91ZM480.21 248.48L476.7 248.84L477.69 246.01ZM480.16 265.57L476.64 265.87L477.67 263.06ZM480.11 282.65L476.58 282.91L477.65 280.11ZM480.05 299.73L476.53 299.94L477.63 297.15ZM480 316.81L476.47 316.98L477.61 314.2ZM479.94 333.89L476.41 334.01L477.59 331.25ZM479.87 350.98L476.34 351.04L477.56 348.3ZM479.81 368.06L476.27 368.08L477.53 365.36ZM479.74 385.15L476.2 385.12L477.5 382.41ZM479.39 402.76L475.87 402.49L477.34 399.88ZM479.15 420.11L475.64 419.69L477.22 417.14ZM478.67 437.75L475.2 437.07L476.97 434.65ZM492.67 60.14L489.27 61.13L489.73 58.16ZM492.64 77.24L489.23 78.18L489.74 75.22ZM492.61 94.34L489.19 95.23L489.74 92.28ZM492.58 111.43L489.15 112.28L489.74 109.34ZM492.55 128.53L489.11 129.33L489.73 126.39ZM492.51 145.63L489.06 146.37L489.73 143.45ZM492.48 162.72L489.01 163.42L489.72 160.51ZM492.42 179.87L488.95 180.5L489.71 177.6ZM492.36 197.03L488.88 197.59L489.7 194.7ZM492.3 214.18L488.8 214.67L489.68 211.8ZM492.24 231.33L488.73 231.75L489.66 228.9ZM492.17 248.47L488.65 248.83L489.64 246ZM492.11 265.56L488.59 265.87L489.62 263.05ZM492.06 282.64L488.54 282.9L489.6 280.1ZM492.01 299.72L488.48 299.94L489.58 297.15ZM491.95 316.8L488.42 316.97L489.56 314.2ZM491.89 333.88L488.36 334L489.54 331.25ZM491.83 350.96L488.3 351.04L489.51 348.29ZM491.77 368.04L488.23 368.07L489.49 365.34ZM491.7 385.13L488.16 385.1L489.46 382.4ZM491.36 402.72L487.83 402.47L489.3 399.85ZM491.14 420.04L487.62 419.65L489.19 417.09ZM490.66 437.7L487.18 437.04L488.94 434.61ZM489.82 455.67L486.45 454.61L488.48 452.4ZM504.62 60.08L501.24 61.09L501.68 58.12ZM504.6 77.18L501.2 78.14L501.69 75.18ZM504.57 94.28L501.16 95.19L501.69 92.24ZM504.54 111.38L501.11 112.24L501.69 109.3ZM504.51 128.48L501.07 129.29L501.69 126.36ZM504.47 145.58L501.02 146.34L501.68 143.42ZM504.44 162.68L500.97 163.39L501.68 160.48ZM504.38 179.84L500.91 180.48L501.67 177.58ZM504.32 197L500.83 197.57L501.65 194.68ZM504.26 214.16L500.76 214.66L501.64 211.79ZM504.19 231.31L500.68 231.74L501.62 228.89ZM504.12 248.46L500.6 248.83L501.59 245.99ZM504.07 265.55L500.55 265.86L501.57 263.04ZM504.01 282.63L500.49 282.9L501.55 280.09ZM503.96 299.72L500.43 299.93L501.53 297.14ZM503.9 316.8L500.37 316.97L501.51 314.19ZM503.84 333.88L500.31 334L501.49 331.24ZM503.78 350.95L500.25 351.03L501.46 348.29ZM503.72 368.02L500.19 368.06L501.44 365.33ZM503.66 385.1L500.13 385.09L501.41 382.38ZM503.33 402.69L499.8 402.44L501.26 399.82ZM503.13 419.97L499.61 419.61L501.16 417.04ZM502.64 437.65L499.17 437.01L500.91 434.57ZM501.78 455.66L498.41 454.6L500.43 452.39ZM516.58 60.02L513.2 61.05L513.63 58.08ZM516.56 77.13L513.16 78.1L513.64 75.14ZM516.53 94.23L513.12 95.16L513.64 92.2ZM516.5 111.34L513.08 112.21L513.64 109.26ZM516.47 128.44L513.03 129.26L513.64 126.32ZM516.43 145.54L512.98 146.32L513.63 143.39ZM516.4 162.65L512.94 163.37L513.63 160.45ZM516.34 179.81L512.87 180.46L513.62 177.56ZM516.28 196.97L512.79 197.55L513.6 194.66ZM516.22 214.13L512.72 214.64L513.59 211.77ZM516.15 231.3L512.64 231.73L513.57 228.88ZM516.07 248.45L512.56 248.82L513.54 245.99ZM516.02 265.54L512.5 265.86L513.53 263.04ZM515.97 282.62L512.44 282.89L513.51 280.09ZM515.91 299.71L512.38 299.93L513.49 297.14ZM515.85 316.79L512.32 316.96L513.46 314.19ZM515.79 333.87L512.26 334L513.44 331.24ZM515.74 350.94L512.21 351.02L513.42 348.28ZM515.68 368L512.15 368.04L513.39 365.31ZM515.62 385.08L512.09 385.07L513.37 382.36ZM515.3 402.65L511.77 402.42L513.22 399.79ZM515.12 419.91L511.6 419.56L513.13 416.98ZM514.63 437.61L511.15 436.98L512.88 434.53ZM513.74 455.64L510.37 454.59L512.39 452.38ZM528.54 59.97L525.16 61.01L525.58 58.04ZM528.52 77.07L525.12 78.06L525.58 75.1ZM528.49 94.18L525.08 95.12L525.59 92.16ZM528.46 111.29L525.04 112.18L525.59 109.23ZM528.43 128.39L524.99 129.23L525.59 126.29ZM528.39 145.5L524.95 146.29L525.58 143.36ZM528.35 162.61L524.9 163.34L525.58 160.42ZM528.3 179.78L524.83 180.44L525.57 177.53ZM528.24 196.95L524.75 197.53L525.56 194.64ZM528.17 214.11L524.68 214.63L525.54 211.76ZM528.1 231.28L524.59 231.72L525.52 228.87ZM528.03 248.44L524.51 248.81L525.49 245.98ZM527.97 265.53L524.45 265.85L525.48 263.03ZM527.92 282.62L524.4 282.89L525.46 280.08ZM527.86 299.7L524.34 299.92L525.44 297.13ZM527.81 316.78L524.28 316.96L525.41 314.18ZM527.75 333.87L524.21 333.99L525.39 331.23ZM527.69 350.93L524.16 351.01L525.37 348.27ZM527.64 367.99L524.11 368.03L525.35 365.3ZM527.58 385.05L524.05 385.05L525.32 382.34ZM527.27 402.62L523.74 402.4L525.18 399.77ZM527.11 419.84L523.59 419.52L525.1 416.93ZM526.61 437.56L523.13 436.95L524.85 434.49ZM525.71 455.63L522.33 454.58L524.35 452.36ZM540.5 59.91L537.13 60.97L537.53 57.99ZM540.47 77.02L537.09 78.03L537.53 75.06ZM540.45 94.13L537.05 95.09L537.54 92.13ZM540.42 111.24L537 112.14L537.54 109.19ZM540.39 128.35L536.96 129.2L537.54 126.26ZM540.35 145.46L536.91 146.26L537.53 143.32ZM540.31 162.57L536.86 163.31L537.53 160.39ZM540.26 179.74L536.79 180.42L537.52 177.51ZM540.19 196.92L536.71 197.52L537.51 194.62ZM540.13 214.09L536.63 214.61L537.49 211.74ZM540.06 231.27L536.55 231.71L537.47 228.86ZM539.98 248.44L536.46 248.81L537.45 245.97ZM539.93 265.52L536.41 265.85L537.43 263.02ZM539.87 282.61L536.35 282.88L537.41 280.08ZM539.82 299.69L536.29 299.92L537.39 297.13ZM539.76 316.78L536.23 316.96L537.36 314.18ZM539.7 333.86L536.17 333.99L537.34 331.23ZM539.65 350.92L536.12 351.01L537.32 348.26ZM539.6 367.97L536.07 368.02L537.3 365.28ZM539.55 385.03L536.01 385.04L537.28 382.32ZM539.24 402.58L535.71 402.38L537.14 399.74ZM539.1 419.77L535.57 419.48L537.07 416.88ZM538.59 437.51L535.11 436.92L536.81 434.46ZM537.67 455.61L534.29 454.57L536.31 452.35ZM552.46 59.85L549.09 60.93L549.48 57.95ZM552.43 76.96L549.05 77.99L549.48 75.02ZM552.41 94.08L549.01 95.05L549.49 92.09ZM552.38 111.19L548.96 112.11L549.49 109.16ZM552.34 128.31L548.92 129.17L549.49 126.22ZM552.31 145.42L548.87 146.23L549.49 143.29ZM552.27 162.53L548.82 163.29L549.48 160.36ZM552.21 179.71L548.75 180.39L549.47 177.48ZM552.15 196.89L548.67 197.5L549.46 194.6ZM552.08 214.07L548.59 214.6L549.44 211.72ZM552.01 231.25L548.51 231.7L549.42 228.84ZM551.93 248.43L548.42 248.8L549.4 245.96ZM551.88 265.51L548.36 265.84L549.38 263.02ZM551.83 282.6L548.3 282.88L549.36 280.07ZM551.77 299.69L548.24 299.91L549.34 297.12ZM551.71 316.77L548.18 316.95L549.32 314.17ZM551.65 333.86L548.12 333.99L549.29 331.23ZM551.6 350.9L548.07 351L549.27 348.25ZM551.56 367.95L548.02 368.01L549.25 365.27ZM551.51 385L547.97 385.02L549.23 382.3ZM551.2 402.55L547.68 402.35L549.1 399.71ZM551.09 419.7L547.56 419.43L549.04 416.82ZM550.58 437.46L547.09 436.89L548.78 434.42ZM549.63 455.6L546.25 454.56L548.26 452.34ZM564.41 59.79L561.05 60.89L561.42 57.91ZM564.39 76.91L561.01 77.95L561.43 74.98ZM564.36 94.03L560.97 95.01L561.43 92.05ZM564.34 111.14L560.93 112.08L561.44 109.12ZM564.3 128.26L560.88 129.14L561.44 126.19ZM564.27 145.38L560.83 146.2L561.44 143.26ZM564.23 162.49L560.78 163.26L561.43 160.33ZM564.17 179.68L560.71 180.37L561.42 177.46ZM564.11 196.87L560.63 197.48L561.41 194.58ZM564.04 214.05L560.55 214.59L561.39 211.71ZM563.97 231.23L560.46 231.69L561.37 228.83ZM563.89 248.42L560.37 248.79L561.35 245.96ZM563.83 265.51L560.31 265.83L561.33 263.01ZM563.78 282.59L560.26 282.87L561.31 280.06ZM563.72 299.68L560.2 299.91L561.29 297.12ZM563.66 316.77L560.13 316.95L561.27 314.17ZM563.6 333.85L560.07 333.98L561.24 331.22ZM563.56 350.89L560.03 350.99L561.23 348.24ZM563.52 367.93L559.98 367.99L561.21 365.26ZM563.47 384.98L559.93 385L561.19 382.28ZM563.17 402.51L559.64 402.33L561.05 399.68ZM563.07 419.64L559.55 419.39L561.01 416.77ZM562.56 437.41L559.07 436.86L560.75 434.38ZM576.38 59.67L573.03 60.8L573.37 57.82ZM576.36 76.79L572.99 77.87L573.38 74.89ZM576.33 93.9L572.95 94.93L573.38 91.96ZM576.31 111.02L572.91 111.99L573.39 109.03ZM576.28 128.13L572.86 129.05L573.39 126.1ZM576.24 145.25L572.82 146.11L573.39 143.17ZM576.21 162.36L572.77 163.17L573.39 160.24ZM576.15 179.58L572.69 180.31L573.38 177.39ZM576.08 196.8L572.6 197.44L573.36 194.54ZM576 214.02L572.51 214.57L573.35 211.69ZM575.92 231.24L572.41 231.69L573.32 228.83ZM575.82 248.45L572.31 248.82L573.29 245.98ZM575.77 265.54L572.25 265.85L573.28 263.03ZM575.72 282.62L572.19 282.89L573.26 280.09ZM575.66 299.71L572.14 299.93L573.24 297.14ZM575.6 316.79L572.07 316.96L573.21 314.19ZM575.55 333.87L572.01 334L573.19 331.24ZM575.5 350.92L571.96 351.01L573.17 348.26ZM575.45 367.98L571.91 368.02L573.15 365.29ZM575.39 385.03L571.86 385.04L573.13 382.32ZM575.18 402.41L571.65 402.27L573.03 399.6ZM575.06 419.56L571.54 419.34L572.98 416.71ZM574.59 437.28L571.1 436.78L572.74 434.27ZM588.34 59.54L585.01 60.71L585.31 57.73ZM588.32 76.66L584.97 77.77L585.32 74.79ZM588.3 93.77L584.93 94.83L585.33 91.86ZM588.28 110.88L584.89 111.89L585.33 108.93ZM588.25 127.99L584.85 128.95L585.34 125.99ZM588.22 145.1L584.81 146.01L585.34 143.06ZM588.19 162.22L584.76 163.07L585.34 160.13ZM588.12 179.47L584.67 180.23L585.33 177.31ZM588.04 196.73L584.57 197.39L585.32 194.48ZM587.96 213.99L584.47 214.54L585.3 211.66ZM587.86 231.24L584.36 231.69L585.27 228.84ZM587.76 248.49L584.24 248.84L585.24 246.01ZM587.71 265.57L584.19 265.88L585.22 263.06ZM587.66 282.65L584.13 282.91L585.2 280.11ZM587.6 299.74L584.07 299.95L585.18 297.16ZM587.54 316.82L584.01 316.98L585.16 314.21ZM587.49 333.89L583.95 334.01L585.14 331.25ZM587.43 350.96L583.89 351.04L585.11 348.3ZM587.37 368.03L583.84 368.06L585.09 365.34ZM587.31 385.1L583.77 385.09L585.06 382.38ZM587.19 402.3L583.65 402.19L585.01 399.51ZM587.06 419.49L583.53 419.29L584.95 416.65ZM586.64 437.14L583.13 436.69L584.74 434.16ZM600.3 59.42L596.98 60.62L597.25 57.64ZM600.29 76.53L596.95 77.68L597.26 74.7ZM600.27 93.64L596.91 94.74L597.27 91.76ZM600.25 110.74L596.87 111.8L597.28 108.83ZM600.22 127.85L596.83 128.86L597.28 125.89ZM600.2 144.96L596.79 145.91L597.29 142.95ZM600.17 162.07L596.75 162.97L597.29 160.02ZM600.1 179.37L596.65 180.16L597.28 177.22ZM600.01 196.66L596.54 197.34L597.27 194.43ZM599.92 213.95L596.43 214.52L597.25 211.63ZM599.81 231.24L596.31 231.7L597.22 228.84ZM599.7 248.53L596.18 248.87L597.18 246.04ZM599.64 265.61L596.12 265.9L597.17 263.09ZM599.59 282.69L596.07 282.94L597.15 280.14ZM599.54 299.77L596.01 299.97L597.13 297.18ZM599.48 316.84L595.95 317L597.1 314.23ZM599.42 333.92L595.89 334.03L597.08 331.27ZM599.36 351L595.83 351.06L597.05 348.33ZM599.29 368.09L595.76 368.1L597.03 365.38ZM599.23 385.17L595.69 385.13L597 382.43ZM599.19 402.18L595.66 402.12L596.98 399.43ZM599.05 419.41L595.52 419.24L596.91 416.59ZM612.26 59.29L608.96 60.53L609.19 57.54ZM612.25 76.39L608.92 77.59L609.2 74.6ZM612.23 93.5L608.89 94.65L609.21 91.66ZM612.21 110.61L608.85 111.7L609.22 108.72ZM612.19 127.71L608.82 128.76L609.23 125.79ZM612.17 144.82L608.78 145.81L609.23 142.85ZM612.14 161.92L608.74 162.87L609.24 159.91ZM612.07 179.26L608.63 180.08L609.24 177.14ZM611.98 196.59L608.52 197.29L609.23 194.38ZM611.88 213.92L608.39 214.5L609.2 211.61ZM611.76 231.25L608.26 231.7L609.17 228.84ZM611.63 248.57L608.11 248.9L609.13 246.07ZM611.58 265.65L608.06 265.93L609.11 263.12ZM611.53 282.72L608 282.96L609.09 280.16ZM611.48 299.8L607.95 299.99L609.07 297.21ZM611.42 316.87L607.89 317.02L609.05 314.25ZM611.36 333.94L607.83 334.04L609.03 331.29ZM611.29 351.04L607.76 351.09L609 348.36ZM611.22 368.15L607.68 368.14L608.96 365.42ZM611.14 385.25L607.61 385.18L608.93 382.49ZM624.22 59.19L620.92 60.46L621.14 57.47ZM624.21 76.3L620.89 77.52L621.15 74.53ZM624.19 93.4L620.86 94.57L621.16 91.59ZM624.18 110.5L620.83 111.63L621.17 108.65ZM624.16 127.6L620.79 128.68L621.18 125.71ZM624.14 144.71L620.75 145.74L621.18 142.77ZM624.11 161.81L620.72 162.79L621.18 159.83ZM624.03 179.17L620.6 180.02L621.19 177.08ZM623.94 196.54L620.48 197.25L621.18 194.34ZM623.83 213.9L620.35 214.48L621.16 211.59ZM623.71 231.25L620.21 231.7L621.12 228.84ZM623.57 248.6L620.05 248.92L621.08 246.1ZM623.52 265.68L620 265.95L621.06 263.14ZM623.47 282.75L619.94 282.98L621.04 280.18ZM623.42 299.82L619.89 300L621.02 297.22ZM623.36 316.89L619.83 317.03L621 314.26ZM623.31 333.96L619.77 334.05L620.97 331.3ZM636.17 59.19L632.87 60.46L633.09 57.47ZM636.16 76.3L632.84 77.52L633.1 74.53ZM636.14 93.4L632.81 94.57L633.11 91.59ZM636.13 110.5L632.78 111.63L633.12 108.65ZM636.11 127.6L632.74 128.68L633.13 125.71ZM636.09 144.71L632.7 145.74L633.13 142.77ZM636.06 161.81L632.67 162.79L633.13 159.83ZM635.98 179.17L632.55 180.02L633.14 177.08ZM635.89 196.54L632.43 197.25L633.13 194.34ZM635.78 213.9L632.3 214.48L633.11 211.59ZM635.52 248.6L632 248.92L633.03 246.1ZM648.11 76.3L644.79 77.52L645.05 74.53ZM648.12 228.59L644.83 229.86L645.03 226.87ZM658.49 81.16L654.97 80.8L656.52 78.23ZM670.63 97.76L667.11 97.52L668.56 94.9Z" fill="#000"/>
<polygon points="624.4,50 625.2,54 629.7,54 633.7,58 640.1,62.4 643.7,63.2 646.5,65.6 649.7,67.7 651.3,66.4 652.9,69.3 654.1,71.7 656.1,74.1 658.1,77.7 660.1,78.9 662.5,78.1 664.9,81.3 668,83.3 669.6,84.5 673.2,87.5 676.8,89.9 679,91.7 679,50" fill="#fff"/>
<polygon points="679.4,118.5 678,115 675.6,111 672,107.4 667.2,103.8 663.6,102.6 662.4,99.5 660,96.5 656.4,94.1 652.8,90.5 649.1,86.9 645.5,83.3 646.7,80.9 648.1,79.7 646.5,76.9 647.3,75.3 644.5,75.7 641.7,78.1 637.7,84.5 634.1,91.2 635.3,96.8 634.9,102.5 634.5,112.1 633.7,120.1 632.9,126 632.7,133.1 631.5,145.2 631.1,150 629.3,168 627.5,186.1 625.7,204.1 625.2,216.8 623.9,227.7 623.1,234.3 623.1,236 623.9,234.3 624.75,230.2 625.6,226 627.25,222.25 629.3,219.3 631.8,216.8 633.5,214.3 632.25,213.1 633.5,211.4 635.6,211.4 638.1,213.9 638.9,213.1 639.75,214.75 642.7,217.7 645.2,220.2 647.7,222.25 649.3,223.1 651,224.75 651.4,226.8 652.7,228.1 651.4,228.9 652.7,230.2 651.8,231.4 650.2,232.7 648.9,231.8 646,232.25 645.2,233.9 644.75,232.7 641,232.25 637.7,231.4 636.4,233.1 636.8,231 636,229.75 632.25,229.3 630.6,231 629.75,233.5 629.3,237.7 627.7,241 625.2,245.2 623.1,250.2 622.25,251.4 623.7,256.6 623.5,265 621.7,277 619.3,295.1 617.5,305.9 616.9,313.1 614.5,325.2 612.1,334 611.6,343 607.9,361.1 604.3,376.7 600.7,394 600.2,400.5 596.5,411.3 593,419.7 588.7,426.3 585.7,430.5 582.1,436.5 576.1,441.4 573.7,445 565.3,445.6 561.5,445.5 560.5,452 559.5,446 552,446.8 548.4,449 545.2,453.5 544,456 542.2,454.7 537.4,453.5 536.5,456 535.6,453.5 533.8,455.3 527.8,457.8 522.9,459.6 519.3,461.4 518.5,465.6 518.1,462 513.3,462 510.9,460.2 508.5,459 504.9,462 503.7,460.2 500.1,462 495.9,460.8 492.3,460.8 488,456.6 482,454.7 478.4,452.9 474.8,449.3 470,446.9 464.2,445.7 459.4,443.9 455.8,440.9 452.2,442.1 451.6,448.7 451,442.1 448.6,439.7 445,437.3 442.6,434.3 440.2,434.9 437.8,436.7 432.9,437.9 429.9,437.9 428.1,437.3 424.5,436.1 420.9,436.7 420.3,440.9 417.9,442.1 414.9,445.1 411.5,448.1 411.3,450.5 412.5,452.9 413.7,458.4 411.3,455.3 408.9,453.5 404,450.5 401,452.3 398,451.7 394.4,451.7 391.4,449.3 387.8,446.3 384.8,443.3 380,441.2 377.2,441.5 376,445.7 376,440.9 373,440.3 368.2,440.3 364.6,439.7 363.4,435.5 361,433.7 358.6,433.7 356.2,431.9 352.6,431.3 352.6,428.3 350.2,427.1 347.8,430.1 349,427.1 346,427.7 347.8,424.7 343.5,425.3 341.7,428.3 339.9,427.1 335.1,428.3 330.9,429.5 326.7,431.3 326.1,434.9 324.9,437.9 323.1,434.9 321.9,438.5 318.9,440.9 317.7,443.3 314.7,442.1 318.3,439.1 314.7,438.5 315.9,436.1 318.9,433.7 320.7,431.3 319.5,427.7 314.7,428.3 310.5,430.1 305.6,430.7 300.8,432.5 297.2,434.3 299,436.1 294.8,435.5 290,435 286.6,437.5 285.4,436.3 283,438.1 278.2,441.1 272.2,442.9 265.6,444.1 262.6,445.3 259,444.7 254.1,445.3 251.7,443.5 248.7,444.7 247.5,447.2 246.9,444.7 243.3,444.7 239.1,445.3 237.9,447.8 236.1,445.3 232.5,444.7 228.9,445.3 225.3,444.7 220.5,444.1 215.6,442.9 209.6,441.1 204.8,439.3 200,437 197.2,437.2 196,434.7 194.8,436.6 191.8,435.9 187,435.3 182.2,433.5 176.8,434.1 173.8,432.9 169,432.9 166.6,431.7 162.9,429.9 158.1,429.3 152.1,429.9 148.5,430.5 144.9,426.3 142.5,423.3 141.9,419.7 138.3,420.9 134.1,421.5 129.9,421.8 128,419.7 125.6,417.9 122,417.9 118.4,418.5 116,419.7 113.6,419.1 111,418.6 108.1,418.1 104.5,418.1 100.9,416.9 98.5,418.1 94.9,418.7 91.3,419.3 90.7,416.3 87.1,413.9 84.1,411.5 81.7,408.5 81.1,404.9 78,403.1 75,401.9 72,399.5 69,405.5 69,471 679,471" fill="#fff"/>
<polyline points="624.4,50 625.2,54 629.7,54 633.7,58 640.1,62.4 643.7,63.2 646.5,65.6 649.7,67.7 651.3,66.4 652.9,69.3 654.1,71.7 656.1,74.1 658.1,77.7 660.1,78.9 662.5,78.1 664.9,81.3 668,83.3 669.6,84.5 673.2,87.5 676.8,89.9 679,91.7" fill="none" stroke="#000" stroke-width="1.15" stroke-linejoin="round"/>
<polyline points="679.4,118.5 678,115 675.6,111 672,107.4 667.2,103.8 663.6,102.6 662.4,99.5 660,96.5 656.4,94.1 652.8,90.5 649.1,86.9 645.5,83.3 646.7,80.9 648.1,79.7 646.5,76.9 647.3,75.3 644.5,75.7 641.7,78.1 637.7,84.5 634.1,91.2 635.3,96.8 634.9,102.5 634.5,112.1 633.7,120.1 632.9,126 632.7,133.1 631.5,145.2 631.1,150 629.3,168 627.5,186.1 625.7,204.1 625.2,216.8 623.9,227.7 623.1,234.3 623.1,236 623.9,234.3 624.75,230.2 625.6,226 627.25,222.25 629.3,219.3 631.8,216.8 633.5,214.3 632.25,213.1 633.5,211.4 635.6,211.4 638.1,213.9 638.9,213.1 639.75,214.75 642.7,217.7 645.2,220.2 647.7,222.25 649.3,223.1 651,224.75 651.4,226.8 652.7,228.1 651.4,228.9 652.7,230.2 651.8,231.4 650.2,232.7 648.9,231.8 646,232.25 645.2,233.9 644.75,232.7 641,232.25 637.7,231.4 636.4,233.1 636.8,231 636,229.75 632.25,229.3 630.6,231 629.75,233.5 629.3,237.7 627.7,241 625.2,245.2 623.1,250.2 622.25,251.4 623.7,256.6 623.5,265 621.7,277 619.3,295.1 617.5,305.9 616.9,313.1 614.5,325.2 612.1,334 611.6,343 607.9,361.1 604.3,376.7 600.7,394 600.2,400.5 596.5,411.3 593,419.7 588.7,426.3 585.7,430.5 582.1,436.5 576.1,441.4 573.7,445 565.3,445.6 561.5,445.5 560.5,452 559.5,446 552,446.8 548.4,449 545.2,453.5 544,456 542.2,454.7 537.4,453.5 536.5,456 535.6,453.5 533.8,455.3 527.8,457.8 522.9,459.6 519.3,461.4 518.5,465.6 518.1,462 513.3,462 510.9,460.2 508.5,459 504.9,462 503.7,460.2 500.1,462 495.9,460.8 492.3,460.8 488,456.6 482,454.7 478.4,452.9 474.8,449.3 470,446.9 464.2,445.7 459.4,443.9 455.8,440.9 452.2,442.1 451.6,448.7 451,442.1 448.6,439.7 445,437.3 442.6,434.3 440.2,434.9 437.8,436.7 432.9,437.9 429.9,437.9 428.1,437.3 424.5,436.1 420.9,436.7 420.3,440.9 417.9,442.1 414.9,445.1 411.5,448.1 411.3,450.5 412.5,452.9 413.7,458.4 411.3,455.3 408.9,453.5 404,450.5 401,452.3 398,451.7 394.4,451.7 391.4,449.3 387.8,446.3 384.8,443.3 380,441.2 377.2,441.5 376,445.7 376,440.9 373,440.3 368.2,440.3 364.6,439.7 363.4,435.5 361,433.7 358.6,433.7 356.2,431.9 352.6,431.3 352.6,428.3 350.2,427.1 347.8,430.1 349,427.1 346,427.7 347.8,424.7 343.5,425.3 341.7,428.3 339.9,427.1 335.1,428.3 330.9,429.5 326.7,431.3 326.1,434.9 324.9,437.9 323.1,434.9 321.9,438.5 318.9,440.9 317.7,443.3 314.7,442.1 318.3,439.1 314.7,438.5 315.9,436.1 318.9,433.7 320.7,431.3 319.5,427.7 314.7,428.3 310.5,430.1 305.6,430.7 300.8,432.5 297.2,434.3 299,436.1 294.8,435.5 290,435 286.6,437.5 285.4,436.3 283,438.1 278.2,441.1 272.2,442.9 265.6,444.1 262.6,445.3 259,444.7 254.1,445.3 251.7,443.5 248.7,444.7 247.5,447.2 246.9,444.7 243.3,444.7 239.1,445.3 237.9,447.8 236.1,445.3 232.5,444.7 228.9,445.3 225.3,444.7 220.5,444.1 215.6,442.9 209.6,441.1 204.8,439.3 200,437 197.2,437.2 196,434.7 194.8,436.6 191.8,435.9 187,435.3 182.2,433.5 176.8,434.1 173.8,432.9 169,432.9 166.6,431.7 162.9,429.9 158.1,429.3 152.1,429.9 148.5,430.5 144.9,426.3 142.5,423.3 141.9,419.7 138.3,420.9 134.1,421.5 129.9,421.8 128,419.7 125.6,417.9 122,417.9 118.4,418.5 116,419.7 113.6,419.1 111,418.6 108.1,418.1 104.5,418.1 100.9,416.9 98.5,418.1 94.9,418.7 91.3,419.3 90.7,416.3 87.1,413.9 84.1,411.5 81.7,408.5 81.1,404.9 78,403.1 75,401.9 72,399.5 69,405.5" fill="none" stroke="#000" stroke-width="1.15" stroke-linejoin="round"/>
<polyline points="129.2,420.5 129.8,422.3 124.4,426.6 128,424.1 128.6,425.3 131,421.7" fill="none" stroke="#000" stroke-width="1"/>
<polygon points="591.3,420.2 597,422.4 592,423.3" fill="#000"/>
<polygon points="351.4,439.1 355.6,437.3 358.6,436.1 361,434.9 362.2,437.3 361,440.9 361.6,446.9 359.2,445.1 358.6,441.5 356.8,438.5 353.8,439.7" fill="#c0c0c0" stroke="#000" stroke-width="1" stroke-linejoin="round"/>
</g>
<path d="M175.5 471.8V50M294.5 471.8V50M414.5 471.8V50M533.5 471.8V50M653.5 471.8V50M69 87.5H679M69 171.5H679M69 256.5H679M69 340.5H679M69 425.5H679" stroke="#c2c2ff" stroke-opacity="0.84" stroke-width="1" stroke-dasharray="5.6 4.4" fill="none" clip-path="url(#pc)"/>
<g shape-rendering="crispEdges" fill="#000">
<rect x="69" y="47" width="610" height="1"/>
<rect x="69" y="473" width="610" height="1"/>
<rect x="66" y="50" width="1" height="421"/>
<rect x="681" y="50" width="1" height="421"/>
<rect x="175" y="44" width="1" height="3"/>
<rect x="175" y="474" width="1" height="3"/>
<rect x="294" y="44" width="1" height="3"/>
<rect x="294" y="474" width="1" height="3"/>
<rect x="414" y="44" width="1" height="3"/>
<rect x="414" y="474" width="1" height="3"/>
<rect x="533" y="44" width="1" height="3"/>
<rect x="533" y="474" width="1" height="3"/>
<rect x="653" y="44" width="1" height="3"/>
<rect x="653" y="474" width="1" height="3"/>
<rect x="63" y="87" width="3" height="1"/>
<rect x="682" y="87" width="3" height="1"/>
<rect x="63" y="171" width="3" height="1"/>
<rect x="682" y="171" width="3" height="1"/>
<rect x="63" y="256" width="3" height="1"/>
<rect x="682" y="256" width="3" height="1"/>
<rect x="63" y="340" width="3" height="1"/>
<rect x="682" y="340" width="3" height="1"/>
<rect x="63" y="425" width="3" height="1"/>
<rect x="682" y="425" width="3" height="1"/>
</g>
</svg>
<div class="lb" style="left:155.1px;top:33px;width:40px;text-align:center">5°W</div><div class="lb" style="left:155.3px;top:475px;width:40px;text-align:center">5°W</div><div class="lb" style="left:274.1px;top:33px;width:40px;text-align:center">4°W</div><div class="lb" style="left:274.3px;top:475px;width:40px;text-align:center">4°W</div><div class="lb" style="left:394.1px;top:33px;width:40px;text-align:center">3°W</div><div class="lb" style="left:394.3px;top:475px;width:40px;text-align:center">3°W</div><div class="lb" style="left:513.1px;top:33px;width:40px;text-align:center">2°W</div><div class="lb" style="left:513.3px;top:475px;width:40px;text-align:center">2°W</div><div class="lb" style="left:633.1px;top:33px;width:40px;text-align:center">1°W</div><div class="lb" style="left:633.3px;top:475px;width:40px;text-align:center">1°W</div><div class="lb" style="left:0;top:81px;width:63px;text-align:right">45°30'N</div><div class="lb" style="left:686.3px;top:81px">45°30'N</div><div class="lb" style="left:0;top:165px;width:63px;text-align:right">45°N</div><div class="lb" style="left:686.3px;top:165px">45°N</div><div class="lb" style="left:0;top:250px;width:63px;text-align:right">44°30'N</div><div class="lb" style="left:686.3px;top:250px">44°30'N</div><div class="lb" style="left:0;top:334px;width:63px;text-align:right">44°N</div><div class="lb" style="left:686.3px;top:334px">44°N</div><div class="lb" style="left:0;top:419px;width:63px;text-align:right">43°30'N</div><div class="lb" style="left:686.3px;top:419px">43°30'N</div>
<svg width="748" height="576" style="position:absolute;left:0;top:0"><defs><linearGradient id="sh" x1="0" y1="0" x2="0" y2="1"><stop offset="0" stop-color="#777"/><stop offset="1" stop-color="#ddd"/></linearGradient><pattern id="dt" width="3" height="4" patternUnits="userSpaceOnUse"><rect x="1" y="1" width="1" height="1" fill="#e8f0a8" opacity="0.9"/><rect x="2.5" y="3" width="1" height="1" fill="#a8a0a8" opacity="0.7"/></pattern><pattern id="dt3" width="3" height="3" patternUnits="userSpaceOnUse"><rect x="1" y="1" width="1" height="1" fill="#e0b8d8" opacity="0.8"/></pattern><pattern id="dt2" width="3" height="3" patternUnits="userSpaceOnUse"><rect x="1" y="1" width="1" height="1" fill="#301000" opacity="0.7"/></pattern></defs><rect x="123.5" y="487.5" width="501" height="57" fill="#fff" stroke="#b4b4b4"/><rect x="133" y="499.5" width="485" height="3" fill="url(#sh)" opacity="0.8"/><g shape-rendering="crispEdges"><rect x="131" y="490" width="14" height="10" fill="#f8cbc2"/><rect x="145" y="490" width="16" height="10" fill="#d4c092"/><rect x="161" y="490" width="16" height="10" fill="#c8b090"/><rect x="177" y="490" width="16" height="10" fill="#c0a8ff"/><rect x="193" y="490" width="16" height="10" fill="#8866d8"/><rect x="209" y="490" width="16" height="10" fill="#5828b8"/><rect x="225" y="490" width="16" height="10" fill="#80ffff"/><rect x="241" y="490" width="16" height="10" fill="#40c0ff"/><rect x="257" y="490" width="16" height="10" fill="#0088ff"/><rect x="273" y="490" width="16" height="10" fill="#0040e0"/><rect x="289" y="490" width="16" height="10" fill="#0000c8"/><rect x="305" y="490" width="16" height="10" fill="#e2ff94"/><rect x="321" y="490" width="16" height="10" fill="#84ff54"/><rect x="337" y="490" width="16" height="10" fill="#14fa14"/><rect x="353" y="490" width="16" height="10" fill="#00e08c"/><rect x="369" y="490" width="16" height="10" fill="#00d07c"/><rect x="385" y="490" width="16" height="10" fill="#00b928"/><rect x="401" y="490" width="14" height="10" fill="#ffffa0"/><rect x="415" y="490" width="14" height="10" fill="#ffff00"/><rect x="429" y="490" width="14" height="10" fill="#ffb90f"/><rect x="443" y="490" width="14" height="10" fill="#ff8c00"/><rect x="457" y="490" width="14" height="10" fill="#f8d0c0"/><rect x="471" y="490" width="14" height="10" fill="#ff6868"/><rect x="485" y="490" width="14" height="10" fill="#ff0000"/><rect x="499" y="490" width="16" height="10" fill="#c08050"/><rect x="515" y="490" width="18" height="10" fill="#a04808"/><rect x="533" y="490" width="18" height="10" fill="#c00000"/><rect x="551" y="490" width="18" height="10" fill="#780000"/><rect x="569" y="490" width="18" height="10" fill="#ff00ff"/><rect x="587" y="490" width="18" height="10" fill="#a00050"/><rect x="131" y="490" width="14" height="10" fill="url(#dt)"/><rect x="145" y="490" width="16" height="10" fill="url(#dt3)"/><rect x="515" y="490" width="18" height="10" fill="url(#dt2)"/></g><polygon points="605,490 618.5,495 605,500" fill="#000"/><path d="M345.5 538.4H354" stroke="#000" stroke-width="0.85"/><polygon points="356.6,538.4 353,536.7 353,540.1" fill="#000"/></svg><div class="lg" style="left:115.1px">0,0</div><div class="lg" style="left:129.1px">0,1</div><div class="lg" style="left:145.1px">0,25</div><div class="lg" style="left:161.1px">0,5</div><div class="lg" style="left:177.1px">0,75</div><div class="lg" style="left:193.1px">1,0</div><div class="lg" style="left:209.1px">1,25</div><div class="lg" style="left:225.1px">1,5</div><div class="lg" style="left:241.1px">1,75</div><div class="lg" style="left:257.1px">2,0</div><div class="lg" style="left:273.1px">2,25</div><div class="lg" style="left:289.1px">2,5</div><div class="lg" style="left:305.1px">2,75</div><div class="lg" style="left:321.1px">3,0</div><div class="lg" style="left:337.1px">3,25</div><div class="lg" style="left:353.1px">3,5</div><div class="lg" style="left:369.1px">3,75</div><div class="lg" style="left:385.1px">4,0</div><div class="lg" style="left:399.1px">4,5</div><div class="lg" style="left:413.1px">5,0</div><div class="lg" style="left:427.1px">5,5</div><div class="lg" style="left:441.1px">6,0</div><div class="lg" style="left:455.1px">7,0</div><div class="lg" style="left:469.1px">8,0</div><div class="lg" style="left:483.1px">9,0</div><div class="lg" style="left:499.1px">10,0</div><div class="lg" style="left:517.1px">11,0</div><div class="lg" style="left:535.1px">12,0</div><div class="lg" style="left:553.1px">13,0</div><div class="lg" style="left:571.1px">14,0</div><div class="lg" style="left:589.1px">15,0</div><div class="lg" style="left:603.5px;font-size:7px">∞</div>
<div class="t" style="left:324px;top:514.6px;width:100px;text-align:center;font-size:10px;line-height:12px;letter-spacing:0.17px">Unité:m</div>
<div class="tx" style="position:absolute;left:360.6px;top:532.7px;font-size:10px;font-weight:bold;line-height:12px;white-space:nowrap;color:#000;letter-spacing:-0.2px">direction</div>
<div class="t" style="left:262px;top:544.3px;font-size:9.6px;line-height:12px;letter-spacing:0.51px;white-space:pre">Moy. : 5,23 m   -   Min. : 0,26 m / Max. : 5,76 m</div>
<div class="tx" style="position:absolute;left:365.3px;top:563.2px;font-size:8px;line-height:10px;white-space:nowrap;color:#000;letter-spacing:-0.074px">MODEL WAVEWATCH III (R) GLOBMULTI - North sea 2 min grid - © PREVIMER 2014 - Tous droits réservés</div>
<div style="position:absolute;left:3px;top:557px;width:68px;height:16px;background:#a4abb3"></div>
<div class="tx" style="position:absolute;left:5.6px;top:556px;font-size:14px;line-height:17px;font-weight:bold;color:#fff;-webkit-text-stroke:0.35px #fff;transform:scaleX(0.68);transform-origin:left;white-space:nowrap">PREVi</div>
<svg width="90" height="26" viewBox="0 0 748 216" style="position:absolute;left:0;top:550px" fill="none" stroke="#1464b4" stroke-linecap="round" stroke-linejoin="round">
<path d="M300 168C322 150 342 112 362 84C352 108 342 132 337 153C362 128 400 94 430 72C414 100 400 130 393 152C396 160 404 158 412 152" stroke-width="11"/>
<path d="M412 152C440 142 472 116 457 105C440 98 420 132 438 150C455 164 480 150 497 138" stroke-width="8.5"/>
<path d="M497 138C506 128 513 118 519 107C526 117 540 118 553 112C545 126 534 142 545 152C556 160 570 146 579 130" stroke-width="8.5"/>
</svg>
</body></html>
